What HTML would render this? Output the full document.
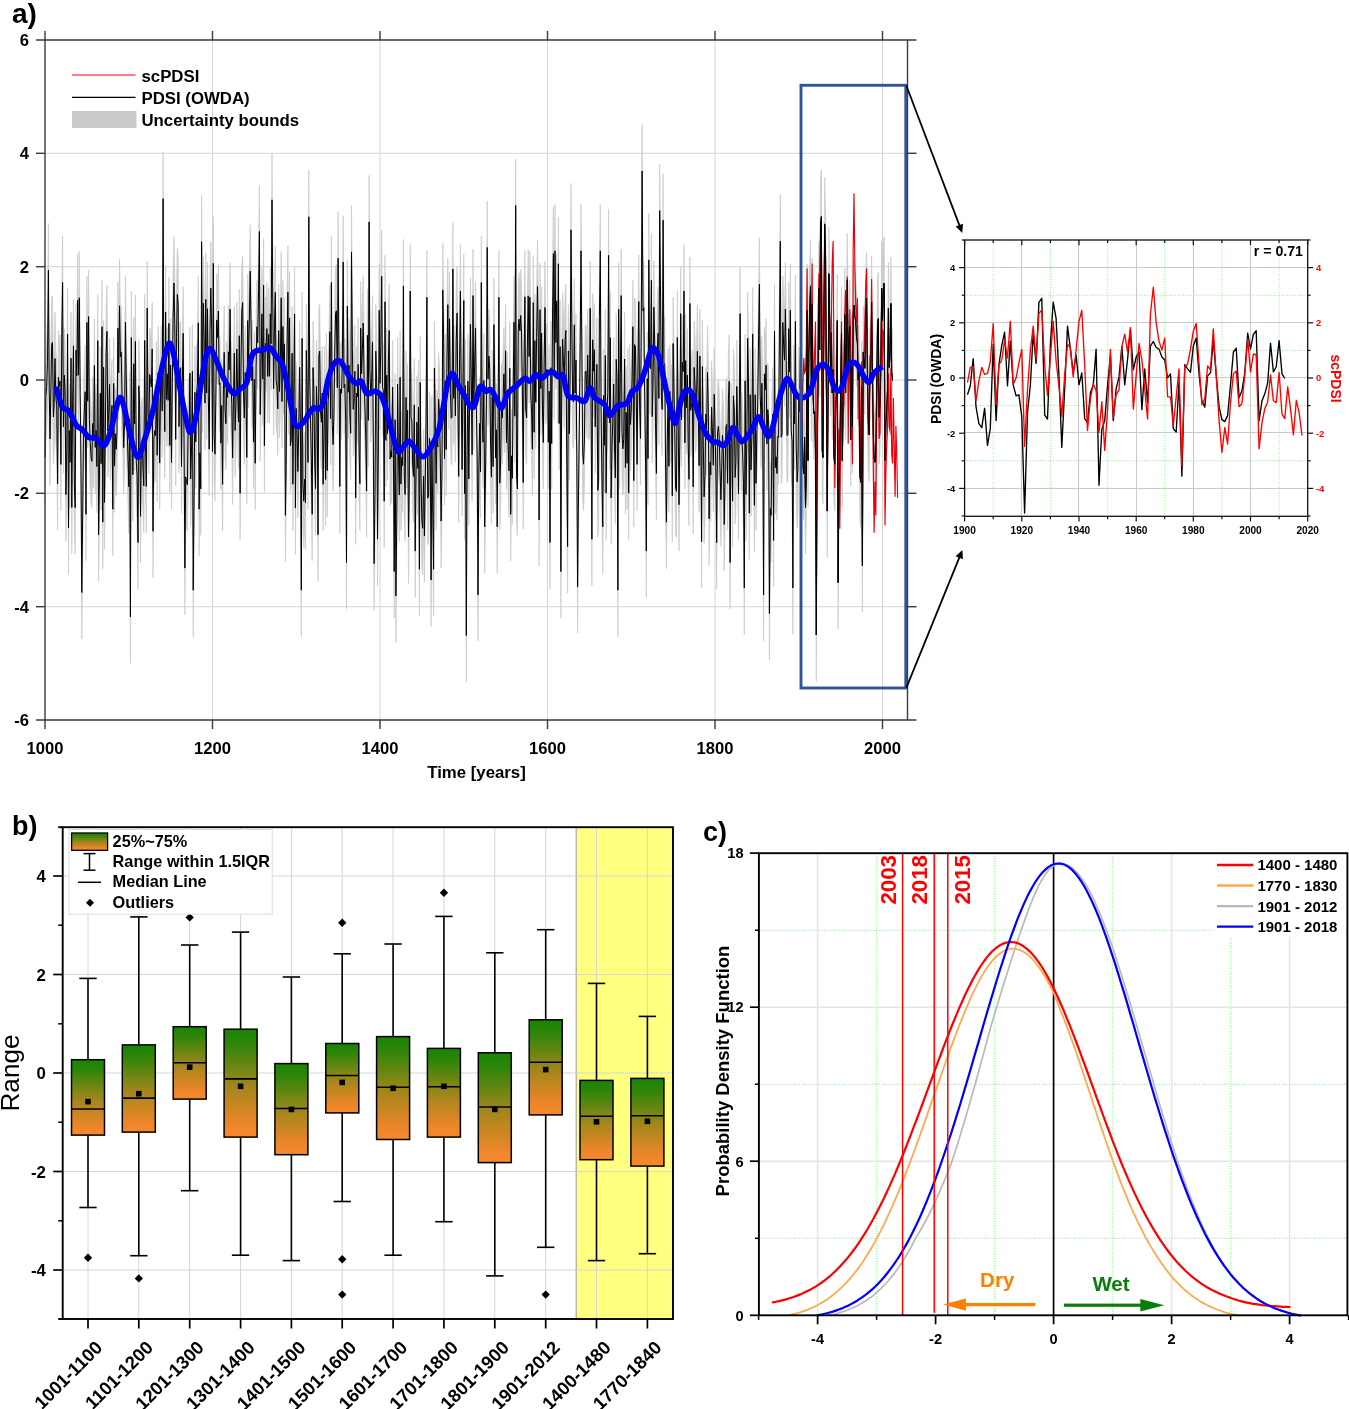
<!DOCTYPE html>
<html><head><meta charset="utf-8"><title>PDSI reconstruction figure</title>
<style>
html,body{margin:0;padding:0;background:#fff;}
body{width:1349px;height:1409px;overflow:hidden;font-family:"Liberation Sans",sans-serif;}
svg{display:block;will-change:transform;}
text{font-family:"Liberation Sans",sans-serif;}
</style></head>
<body>
<svg width="1349" height="1409" viewBox="0 0 1349 1409" font-family="Liberation Sans, sans-serif" shape-rendering="geometricPrecision">
<g id="panelA">
<line x1="212.5" y1="40" x2="212.5" y2="720" stroke="#d4d4d4" stroke-width="1" />
<line x1="380" y1="40" x2="380" y2="720" stroke="#d4d4d4" stroke-width="1" />
<line x1="547.5" y1="40" x2="547.5" y2="720" stroke="#d4d4d4" stroke-width="1" />
<line x1="715" y1="40" x2="715" y2="720" stroke="#d4d4d4" stroke-width="1" />
<line x1="882.5" y1="40" x2="882.5" y2="720" stroke="#d4d4d4" stroke-width="1" />
<line x1="45" y1="153.3" x2="907.5" y2="153.3" stroke="#d4d4d4" stroke-width="1" />
<line x1="45" y1="266.7" x2="907.5" y2="266.7" stroke="#d4d4d4" stroke-width="1" />
<line x1="45" y1="380" x2="907.5" y2="380" stroke="#d4d4d4" stroke-width="1" />
<line x1="45" y1="493.3" x2="907.5" y2="493.3" stroke="#d4d4d4" stroke-width="1" />
<line x1="45" y1="606.7" x2="907.5" y2="606.7" stroke="#d4d4d4" stroke-width="1" />
<path d="M45,410.7 45.8,350.1 46.7,340 47.5,315.3 48.4,223.6 49.2,341.5 50,392.5 50.9,341.5 51.7,297.3 52.5,295.8 53.4,370.5 54.2,356.2 55,312.2 55.9,351.2 56.7,359.4 57.6,437.2 58.4,330.6 59.2,340 60.1,334.7 60.9,418 61.8,287.1 62.6,236.1 63.4,380.3 64.3,328.6 65.1,343.2 65.9,448.1 66.8,403.5 67.6,287.8 68.5,481.4 69.3,384.1 70.1,415.8 71,311.7 71.8,460.9 72.6,355.2 73.5,299.3 74.3,437.5 75.2,461.3 76,303.6 76.8,329.4 77.7,253.6 78.5,328.6 79.3,251.4 80.2,347 81,421.9 81.8,546 82.7,466.5 83.5,384.5 84.4,361.8 85.2,345.2 86,467.8 86.9,275.9 87.7,354.7 88.6,270.1 89.4,373.3 90.2,395.9 91.1,410.9 91.9,414.9 92.7,377 93.6,394.5 94.4,318.9 95.2,400.9 96.1,384.2 96.9,420 97.8,294.2 98.6,488.2 99.4,437.2 100.3,346.8 101.1,417.2 102,280.3 102.8,475.7 103.6,320.8 104.5,455.9 105.3,391.1 106.1,306 107,285 107.8,384.5 108.7,367.4 109.5,337.9 110.3,387.7 111.2,373.5 112,359 112.8,462.7 113.7,336.9 114.5,419.6 115.4,387.3 116.2,403 117,385.3 117.9,281.7 118.7,326.4 119.5,259.3 120.4,310.3 121.2,305.9 122,348.2 122.9,360.6 123.7,401.3 124.6,374.2 125.4,275.7 126.2,326.7 127.1,381.4 127.9,408.3 128.8,440.2 129.6,372.4 130.4,570.4 131.3,291 132.1,378.5 132.9,428.3 133.8,317.3 134.6,377.4 135.4,295 136.3,415.6 137.1,429.2 138,496.2 138.8,339.3 139.6,358 140.5,469.9 141.3,401.7 142.2,397.7 143,423.1 143.8,439.4 144.7,294 145.5,396.1 146.3,440 147.2,261.6 148,368 148.9,380.6 149.7,328.1 150.5,334.1 151.4,340.5 152.2,302.5 153,484.8 153.9,392.8 154.7,384.2 155.6,389 156.4,341.8 157.2,408.8 158.1,326.3 158.9,352.7 159.7,416.6 160.6,341 161.4,325.2 162.2,364.5 163.1,152.2 163.9,343 164.8,385.2 165.6,265.5 166.4,352.8 167.3,327.4 168.1,353.9 168.9,276.9 169.8,398.9 170.6,318.5 171.5,416 172.3,337 173.1,269.5 174,236.5 174.8,278.3 175.7,392.9 176.5,290.2 177.3,248 178.2,257.9 179,380.2 179.8,323.8 180.7,321.3 181.5,420.1 182.3,337.3 183.2,286.8 184,391.9 184.9,521.7 185.7,430.4 186.5,435.1 187.4,438.3 188.2,378.8 189.1,387.3 189.9,326.8 190.7,432.4 191.6,399.4 192.4,324.7 193.2,543.8 194.1,448.9 194.9,346 195.8,395.3 196.6,346.5 197.4,338.4 198.3,276.4 199.1,462.7 199.9,406.3 200.8,442.5 201.6,195.3 202.5,339.5 203.3,256.6 204.1,291.2 205,356.6 205.8,252.9 206.6,346.5 207.5,262.2 208.3,348.9 209.2,402.7 210,281.9 210.8,241.6 211.7,284.5 212.5,405.6 213.3,216.8 214.2,389.7 215,407.8 215.8,352.3 216.7,273.6 217.5,291 218.4,264.5 219.2,338.1 220,336.4 220.9,396.8 221.7,359 222.6,437.8 223.4,343.5 224.2,305.9 225.1,364.5 225.9,377.2 226.7,341.9 227.6,350.9 228.4,305.3 229.2,323.5 230.1,262.7 230.9,336.8 231.8,357.1 232.6,411.5 233.4,357.3 234.3,306.5 235.1,384 236,355.2 236.8,302.5 237.6,344.4 238.5,375.4 239.3,289.2 240.1,446.9 241,314.6 241.8,264.3 242.7,256.1 243.5,345.3 244.3,371.6 245.2,326.1 246,342.7 246.8,410.9 247.7,274.1 248.5,315.1 249.3,275.7 250.2,224.7 251,275.7 251.9,334.3 252.7,320.1 253.5,395.7 254.4,332.7 255.2,416.8 256.1,319.3 256.9,280.3 257.7,296.3 258.6,243 259.4,185.1 260.2,368 261.1,316.5 261.9,267.4 262.8,332.7 263.6,238.5 264.4,399.4 265.3,297 266.1,299 266.9,282.2 267.8,330 268.6,287.9 269.5,329.8 270.3,267.4 271.1,297.3 272,153.3 272.8,258.9 273.6,342.2 274.5,276.9 275.3,245.8 276.1,333.2 277,341.1 277.8,362.4 278.7,284.2 279.5,344.9 280.3,319.7 281.2,251.4 282,355 282.9,280.1 283.7,321.5 284.5,297.4 285.4,469 286.2,418 287,299.7 287.9,245.7 288.7,341.4 289.6,271.4 290.4,399.2 291.2,393.5 292.1,306.7 292.9,437.7 293.7,348.1 294.6,267.4 295.4,461.6 296.2,361.9 297.1,386.1 297.9,425.1 298.8,379.8 299.6,320.8 300.4,376 301.3,543.8 302.1,291.9 302.9,437.3 303.8,454.7 304.6,432.6 305.5,456.5 306.3,304.1 307.1,339 308,416 308.8,170.3 309.7,331.6 310.5,372.5 311.3,412.1 312.2,467.8 313,321.1 313.8,340.5 314.7,413.4 315.5,442 316.4,339.9 317.2,361.5 318,488.2 318.9,308.9 319.7,304.5 320.5,364.8 321.4,375.8 322.2,346.6 323.1,437.8 323.9,386.8 324.7,346.2 325.6,433 326.4,333.3 327.2,424 328.1,355 328.9,343.2 329.8,285.2 330.6,372.1 331.4,236.1 332.3,378.1 333.1,398.1 333.9,368.1 334.8,300.7 335.6,266.7 336.4,264.3 337.3,341.2 338.1,211.7 339,312.9 339.8,440.1 340.6,342.6 341.5,346.7 342.3,319 343.2,215.7 344,341.4 344.8,337.9 345.7,374.4 346.5,516 347.3,259.7 348.2,345.7 349,318.7 349.9,369.2 350.7,386.9 351.5,205.5 352.4,302.2 353.2,362.9 354,353.6 354.9,324.9 355.7,451.4 356.6,346.6 357.4,350.2 358.2,317.9 359.1,405.3 359.9,437.3 360.7,281.6 361.6,327.2 362.4,303 363.2,276.5 364.1,332.9 364.9,360.5 365.8,393.6 366.6,444.6 367.4,288.8 368.3,373.9 369.1,175.4 369.9,324.1 370.8,349.6 371.6,336.5 372.5,295.5 373.3,390.3 374.1,517.1 375,448 375.8,304.6 376.7,336.4 377.5,492.8 378.3,409.4 379.2,263.8 380,336.9 380.8,298.7 381.7,229.8 382.5,340.7 383.4,344.7 384.2,454.8 385,255.3 385.9,393.9 386.7,328.6 387.5,387.2 388.4,314 389.2,284.1 390.1,412.5 390.9,404.3 391.7,410.7 392.6,340.5 393.4,404.7 394.2,525.1 395.1,373.3 395.9,549.4 396.8,471.7 397.6,337.5 398.4,403.7 399.3,448.5 400.1,330.7 400.9,437.7 401.8,411.1 402.6,419.1 403.4,239.5 404.3,430.6 405.1,448.1 406,350.8 406.8,395.1 407.6,363.6 408.5,490.5 409.3,438.2 410.2,244.6 411,370.9 411.8,374.2 412.7,419.2 413.5,429.8 414.3,358.3 415.2,504.7 416,428.3 416.9,375.6 417.7,422 418.5,360.5 419.4,522.8 420.2,336 421,431.9 421.9,474.1 422.7,481.9 423.6,429.8 424.4,489.4 425.2,438.4 426.1,373.8 426.9,250.8 427.7,451.7 428.6,449.8 429.4,391.8 430.2,399.3 431.1,533.6 431.9,396.1 432.8,470 433.6,522.8 434.4,321.5 435.3,372.3 436.1,436.9 436.9,390 437.8,400.5 438.6,352.7 439.5,367.4 440.3,411.7 441.1,474.6 442,423.6 442.8,243.4 443.7,294.4 444.5,412.2 445.3,334.4 446.2,403.2 447,309.2 447.8,258.2 448.7,336.7 449.5,272.4 450.4,346.8 451.2,371.9 452,370.6 452.9,222.5 453.7,351.8 454.5,325.5 455.4,369.3 456.2,294.2 457.1,266.5 457.9,355.8 458.7,430 459.6,312.8 460.4,244.6 461.2,340.2 462.1,423.2 462.9,344.2 463.8,254.2 464.6,447.3 465.4,339.2 466.3,589.1 467.1,409.2 467.9,334.8 468.8,432.6 469.6,353.7 470.4,277.9 471.3,333.7 472.1,408.2 473,249.1 473.8,357.4 474.6,320 475.5,281.5 476.3,354.9 477.2,414.5 478,548.3 478.8,426.2 479.7,377 480.5,425.4 481.3,236.1 482.2,371.9 483,395.9 483.9,334 484.7,480.3 485.5,429.3 486.4,356.9 487.2,200.9 488,332.7 488.9,309.5 489.7,322 490.6,397.5 491.4,430.7 492.2,350.2 493.1,420.2 493.9,278.1 494.7,334.8 495.6,411.4 496.4,383.3 497.2,480.3 498.1,370.2 498.9,250.8 499.8,436.7 500.6,414.9 501.4,363.3 502.3,371.3 503.1,350.1 503.9,327.5 504.8,360.1 505.6,304.3 506.5,396.3 507.3,352.7 508.1,398.4 509,424.4 509.8,321.7 510.7,467.8 511.5,409.5 512.3,431.8 513.2,340.4 514,275.7 514.8,369.8 515.7,159 516.5,428.8 517.4,442.6 518.2,284 519,272.6 519.9,284.4 520.7,269 521.5,285.5 522.4,345.6 523.2,436.1 524,319.7 524.9,250.4 525.7,362.7 526.6,371.5 527.4,299.8 528.2,249.4 529.1,310.1 529.9,250.8 530.8,348.3 531.6,366 532.4,402.8 533.3,256.1 534.1,385.8 534.9,294.1 535.8,355.8 536.6,291 537.5,240 538.3,291 539.1,473.5 540,263.2 540.8,342 541.6,286.7 542.5,366.4 543.3,396 544.2,312 545,261 545.8,331.3 546.7,323 547.5,324.7 548.3,395.7 549.2,344.8 550,496.2 550.9,321.2 551.7,397 552.5,269.7 553.4,207.2 554.2,326.5 555,204.3 555.9,296 556.7,254.4 557.6,330.3 558.4,217.4 559.2,377.1 560.1,300.2 560.9,525.1 561.7,341.5 562.6,292.7 563.4,313.7 564.2,335.7 565.1,293.4 565.9,283.9 566.8,419 567.6,500.1 568.4,304.5 569.3,387.4 570.1,332.9 571,183.4 571.8,276.1 572.6,351.5 573.5,355.5 574.3,278.3 575.1,346.6 576,313.7 576.8,408.7 577.6,540.4 578.5,445.4 579.3,382 580.2,295 581,204.3 581.8,295.1 582.7,406.2 583.5,417.7 584.4,394.5 585.2,325.5 586,324.5 586.9,345.4 587.7,308.5 588.5,347.6 589.4,345 590.2,261.8 591.1,364.8 591.9,492.8 592.7,293.3 593.6,324.7 594.4,303.3 595.2,380.3 596.1,344.7 596.9,317.8 597.8,443.9 598.6,434.8 599.4,270 600.3,204.3 601.1,365.1 601.9,429.3 602.8,480.3 603.6,349 604.5,398.8 605.3,309 606.1,446.6 607,365.5 607.8,346.4 608.6,208.9 609.5,376.5 610.3,291.2 611.1,451.4 612,400.4 612.8,374.7 613.7,337.6 614.5,399.9 615.3,431.5 616.2,313 617,330.1 617.9,543.8 618.7,262.8 619.5,395.9 620.4,326.7 621.2,249.1 622,386.2 622.9,402.3 623.7,392.8 624.6,312.5 625.4,421.1 626.2,365.8 627.1,416.8 627.9,348.6 628.7,446.5 629.6,344.5 630.4,378 631.2,365.8 632.1,331.3 632.9,280.3 633.8,434.1 634.6,298.1 635.4,300.5 636.3,352.7 637.1,418 638,314.3 638.8,255.1 639.6,358.3 640.5,392 641.3,268.5 642.1,124.4 643,264.6 643.8,261.2 644.6,342.4 645.5,406.6 646.3,504.7 647.2,332.1 648,412.1 648.8,213.4 649.7,320.5 650.5,322.1 651.4,233.8 652.2,370.3 653,339.1 653.9,260.7 654.7,295.4 655.5,376 656.4,427 657.2,304.4 658.1,286.8 658.9,351.9 659.7,164.1 660.6,254.5 661.4,350.7 662.2,363 663.1,173.7 663.9,316.6 664.8,317.6 665.6,424.8 666.4,475.8 667.3,394.9 668.1,348.8 668.9,419.8 669.8,345 670.6,370.1 671.5,364.4 672.3,449.3 673.1,297 674,343.2 674.8,387.1 675.6,442 676.5,444.9 677.3,291 678.1,367.9 679,458.2 679.8,396.5 680.7,267.2 681.5,373.5 682.3,315.8 683.2,325.2 684,244.6 684.9,396.3 685.7,314.2 686.5,361.5 687.4,328.8 688.2,397.2 689,432.9 689.9,257 690.7,364 691.6,357.2 692.4,349.8 693.2,440.5 694.1,321 694.9,335.4 695.7,359.2 696.6,347.1 697.4,304.8 698.2,353 699.1,419.2 699.9,309.4 700.8,389.4 701.6,495 702.4,320 703.3,399 704.1,450.4 705,429.1 705.8,367.6 706.6,382.6 707.5,325.9 708.3,360 709.1,472.4 710,415.7 710.8,428.3 711.6,360.8 712.5,387.5 713.3,418.8 714.2,347.7 715,380.8 715.8,421.3 716.7,496.2 717.5,386.5 718.4,379.9 719.2,390.6 720,422.6 720.9,453.2 721.7,422 722.5,388.8 723.4,405.2 724.2,478 725.1,427 725.9,380.8 726.7,378 727.6,436.9 728.4,353.5 729.2,334.7 730.1,516 730.9,383.1 731.8,395.1 732.6,454.6 733.4,349.3 734.3,363.3 735.1,431.1 735.9,415 736.8,339.9 737.6,379.9 738.5,447.1 739.3,364.6 740.1,267.2 741,398 741.8,392.1 742.6,405.7 743.5,437.2 744.3,541.5 745.1,334.4 746,447.9 746.8,398.3 747.7,291.8 748.5,336.7 749.3,466.7 750.2,348.4 751,423.4 751.9,389.4 752.7,287.5 753.5,373.7 754.4,458.9 755.2,348.2 756,436.8 756.9,384.1 757.7,357.6 758.6,288.8 759.4,237.8 760.2,348.7 761.1,374.7 761.9,336.7 762.7,378.9 763.6,548.3 764.4,327.4 765.2,343.4 766.1,318.8 766.9,397.6 767.8,363.1 768.6,373 769.4,567 770.3,462 771.1,468.8 772,389.8 772.8,367.7 773.6,493.9 774.5,284.8 775.3,421.1 776.1,410.3 777,427.1 777.8,390.1 778.6,390.9 779.5,273.4 780.3,194.7 781.2,390.7 782,387.7 782.8,275.9 783.7,299.3 784.5,313.7 785.4,262.7 786.2,313.7 787,389.1 787.9,388.5 788.7,282.3 789.5,325.5 790.4,263.8 791.2,383.1 792.1,394.5 792.9,541.5 793.7,345.6 794.6,377.3 795.4,274.9 796.2,398.5 797.1,435.4 797.9,422.9 798.8,347 799.6,365.2 800.4,348.3 801.3,293.7 802.1,387.7 802.9,419.6 803.8,427.1 804.6,390.7 805.5,460.9 806.3,429 807.1,263.9 808,414 808.8,306.8 809.6,266 810.5,239.5 811.3,348.3 812.1,257.8 813,346.4 813.8,367.1 814.7,365.2 815.5,406.5 816.3,588.5 817.2,399 818,346.4 818.9,241.5 819.7,303.5 820.5,178.3 821.4,170.1 822.2,403.9 823,411 823.9,263.9 824.7,177.4 825.6,210.9 826.4,331.2 827.2,464.7 828.1,354 828.9,227.2 829.7,274.1 830.6,323.1 831.4,286.4 832.2,346.4 833.1,323.1 833.9,410.3 834.8,417.8 835.6,361.5 836.4,346.4 837.3,274.1 838.1,536 839,430.9 839.8,414 840.6,346.4 841.5,286.4 842.3,414 843.1,354 844,331.2 844.8,268 845.6,346.4 846.5,294.5 847.3,233.3 848.2,317 849,290.5 849.8,280.3 850.7,393.4 851.5,314.9 852.4,380.2 853.2,268 854,258.6 854.9,270.9 855.7,274.1 856.5,290.5 857.4,296.6 858.2,333.3 859.1,325.1 859.9,429 860.7,435.8 861.6,340.8 862.4,519.1 863.2,306 864.1,314.9 864.9,321.9 865.8,268 866.6,251.7 867.4,327.2 868.3,376.5 869.1,388.5 869.9,329.2 870.8,323.1 871.6,255.8 872.5,327.2 873.3,387.7 874.1,412.1 875,415.9 875.8,404.6 876.6,346.4 877.5,280.3 878.3,272.1 879.1,370.8 880,357.7 880.8,323.1 881.7,241.5 882.5,274.1 883.3,243.5 884.2,236.6 885,414 885.9,376.5 886.7,363.3 887.5,342.7 888.4,261.9 889.2,321 890,310.8 890.9,257 891.7,325.1 892.6,334.1 892.6,427 891.7,418.1 890.9,349.9 890,403.8 889.2,414 888.4,354.8 887.5,435.6 886.7,456.3 885.9,469.4 885,506.9 884.2,329.5 883.3,336.5 882.5,367.1 881.7,334.4 880.8,416 880,450.6 879.1,463.8 878.3,365 877.5,373.2 876.6,439.4 875.8,497.6 875,508.8 874.1,505.1 873.3,480.7 872.5,420.1 871.6,348.7 870.8,416 869.9,422.1 869.1,481.4 868.3,469.4 867.4,420.1 866.6,344.6 865.8,360.9 864.9,414.8 864.1,407.9 863.2,398.9 862.4,612 861.6,433.7 860.7,528.7 859.9,522 859.1,418.1 858.2,426.2 857.4,389.5 856.5,383.4 855.7,367.1 854.9,363.8 854,351.6 853.2,360.9 852.4,473.2 851.5,407.9 850.7,486.3 849.8,373.2 849,383.4 848.2,409.9 847.3,326.3 846.5,387.5 845.6,439.4 844.8,360.9 844,424.2 843.1,446.9 842.3,506.9 841.5,379.3 840.6,439.4 839.8,506.9 839,523.8 838.1,628.9 837.3,367.1 836.4,439.4 835.6,454.4 834.8,510.7 833.9,503.2 833.1,416 832.2,439.4 831.4,379.3 830.6,416 829.7,367.1 828.9,320.2 828.1,446.9 827.2,557.6 826.4,424.2 825.6,303.8 824.7,270.4 823.9,356.9 823,503.9 822.2,496.8 821.4,263 820.5,271.2 819.7,396.4 818.9,334.4 818,439.4 817.2,491.9 816.3,681.5 815.5,499.4 814.7,458.1 813.8,460 813,439.4 812.1,350.7 811.3,441.3 810.5,332.4 809.6,358.9 808.8,399.7 808,506.9 807.1,356.9 806.3,522 805.5,553.9 804.6,483.7 803.8,520.1 802.9,512.6 802.1,480.7 801.3,386.6 800.4,441.3 799.6,458.1 798.8,439.9 797.9,515.8 797.1,528.3 796.2,491.5 795.4,367.8 794.6,470.2 793.7,438.6 792.9,634.4 792.1,487.4 791.2,476 790.4,356.8 789.5,418.5 788.7,375.2 787.9,481.4 787,482 786.2,406.6 785.4,355.6 784.5,406.6 783.7,392.2 782.8,368.8 782,480.6 781.2,483.6 780.3,287.6 779.5,366.3 778.6,483.9 777.8,483 777,520.1 776.1,503.3 775.3,514.1 774.5,377.7 773.6,586.8 772.8,460.6 772,482.7 771.1,561.8 770.3,555 769.4,659.9 768.6,465.9 767.8,456.1 766.9,490.6 766.1,411.7 765.2,436.4 764.4,420.4 763.6,641.2 762.7,471.9 761.9,429.6 761.1,467.7 760.2,441.6 759.4,330.7 758.6,381.7 757.7,450.5 756.9,477.1 756,529.8 755.2,441.2 754.4,551.9 753.5,466.6 752.7,380.4 751.9,482.3 751,516.4 750.2,441.3 749.3,559.6 748.5,429.6 747.7,384.7 746.8,491.3 746,540.9 745.1,427.3 744.3,634.4 743.5,530.2 742.6,498.6 741.8,485 741,490.9 740.1,360.2 739.3,457.5 738.5,540 737.6,472.8 736.8,432.8 735.9,507.9 735.1,524 734.3,456.2 733.4,442.2 732.6,547.5 731.8,488.1 730.9,476 730.1,608.9 729.2,427.7 728.4,446.4 727.6,529.9 726.7,470.9 725.9,473.7 725.1,520 724.2,571 723.4,498.1 722.5,481.7 721.7,514.9 720.9,546.2 720,515.6 719.2,483.5 718.4,472.8 717.5,479.4 716.7,589.1 715.8,514.3 715,473.8 714.2,440.6 713.3,511.7 712.5,480.4 711.6,453.7 710.8,521.2 710,508.6 709.1,565.3 708.3,453 707.5,418.8 706.6,475.5 705.8,460.5 705,522 704.1,543.3 703.3,491.9 702.4,412.9 701.6,588 700.8,482.3 699.9,402.3 699.1,512.1 698.2,445.9 697.4,397.8 696.6,440.1 695.7,452.2 694.9,428.3 694.1,413.9 693.2,533.4 692.4,442.8 691.6,450.2 690.7,456.9 689.9,350 689,525.9 688.2,490.2 687.4,421.7 686.5,454.4 685.7,407.1 684.9,489.2 684,337.5 683.2,418.1 682.3,408.7 681.5,466.5 680.7,360.1 679.8,489.5 679,551.1 678.1,460.8 677.3,383.9 676.5,537.8 675.6,534.9 674.8,480 674,436.1 673.1,390 672.3,542.2 671.5,457.4 670.6,463.1 669.8,437.9 668.9,512.7 668.1,441.8 667.3,487.9 666.4,568.7 665.6,517.7 664.8,410.5 663.9,409.6 663.1,266.7 662.2,456 661.4,443.6 660.6,347.5 659.7,257 658.9,444.8 658.1,379.7 657.2,397.3 656.4,520 655.5,469 654.7,388.4 653.9,353.7 653,432 652.2,463.2 651.4,326.7 650.5,415 649.7,413.4 648.8,306.3 648,505 647.2,425 646.3,597.6 645.5,499.6 644.6,435.3 643.8,354.2 643,357.6 642.1,217.4 641.3,361.5 640.5,485 639.6,451.2 638.8,348 638,407.2 637.1,510.9 636.3,445.6 635.4,393.4 634.6,391.1 633.8,527 632.9,373.2 632.1,424.2 631.2,458.8 630.4,470.9 629.6,437.4 628.7,539.5 627.9,441.6 627.1,509.8 626.2,458.8 625.4,514 624.6,405.4 623.7,485.7 622.9,495.2 622,479.1 621.2,342 620.4,419.7 619.5,488.8 618.7,355.8 617.9,636.7 617,423 616.2,405.9 615.3,524.5 614.5,492.8 613.7,430.5 612.8,467.7 612,493.3 611.1,544.3 610.3,384.2 609.5,469.4 608.6,301.8 607.8,439.3 607,458.4 606.1,539.5 605.3,401.9 604.5,491.8 603.6,441.9 602.8,573.2 601.9,522.2 601.1,458.1 600.3,297.3 599.4,362.9 598.6,527.7 597.8,536.9 596.9,410.7 596.1,437.6 595.2,473.3 594.4,396.2 593.6,417.7 592.7,386.3 591.9,585.7 591.1,457.8 590.2,354.7 589.4,438 588.5,440.5 587.7,401.4 586.9,438.4 586,417.4 585.2,418.4 584.4,487.5 583.5,510.7 582.7,499.1 581.8,388 581,297.3 580.2,388 579.3,474.9 578.5,538.4 577.6,633.3 576.8,501.6 576,406.6 575.1,439.6 574.3,371.3 573.5,448.5 572.6,444.5 571.8,369 571,276.3 570.1,425.8 569.3,480.3 568.4,397.4 567.6,593.1 566.8,511.9 565.9,376.9 565.1,386.3 564.2,428.6 563.4,406.6 562.6,385.7 561.7,434.4 560.9,618 560.1,393.1 559.2,470.1 558.4,310.3 557.6,423.2 556.7,347.3 555.9,389 555,297.3 554.2,419.4 553.4,300.1 552.5,362.6 551.7,489.9 550.9,414.2 550,589.1 549.2,437.7 548.3,488.6 547.5,417.7 546.7,415.9 545.8,424.3 545,353.9 544.2,404.9 543.3,489 542.5,459.3 541.6,379.6 540.8,435 540,356.2 539.1,566.4 538.3,384 537.5,333 536.6,384 535.8,448.7 534.9,387.1 534.1,478.7 533.3,349.1 532.4,495.7 531.6,459 530.8,441.2 529.9,343.7 529.1,403.1 528.2,342.3 527.4,392.7 526.6,464.4 525.7,455.7 524.9,343.3 524,412.6 523.2,529 522.4,438.5 521.5,378.5 520.7,362 519.9,377.3 519,365.5 518.2,376.9 517.4,535.5 516.5,521.8 515.7,251.9 514.8,462.7 514,368.7 513.2,433.4 512.3,524.8 511.5,502.4 510.7,560.8 509.8,414.6 509,517.4 508.1,491.3 507.3,445.6 506.5,489.2 505.6,397.3 504.8,453 503.9,420.4 503.1,443 502.3,464.2 501.4,456.3 500.6,507.8 499.8,529.6 498.9,343.7 498.1,463.1 497.2,573.2 496.4,476.3 495.6,504.4 494.7,427.7 493.9,371.1 493.1,513.1 492.2,443.2 491.4,523.6 490.6,490.4 489.7,414.9 488.9,402.5 488,425.6 487.2,293.9 486.4,449.9 485.5,522.2 484.7,573.2 483.9,426.9 483,488.8 482.2,464.9 481.3,329 480.5,518.3 479.7,469.9 478.8,519.2 478,641.2 477.2,507.4 476.3,447.8 475.5,374.4 474.6,412.9 473.8,450.3 473,342 472.1,501.1 471.3,426.6 470.4,370.9 469.6,446.7 468.8,525.5 467.9,427.7 467.1,502.2 466.3,682 465.4,432.1 464.6,540.2 463.8,347.1 462.9,437.1 462.1,516.1 461.2,433.1 460.4,337.5 459.6,405.8 458.7,522.9 457.9,448.7 457.1,359.4 456.2,387.2 455.4,462.3 454.5,418.4 453.7,444.7 452.9,315.4 452,463.5 451.2,464.8 450.4,439.7 449.5,365.3 448.7,429.7 447.8,351.1 447,402.1 446.2,496.1 445.3,427.4 444.5,505.2 443.7,387.4 442.8,336.4 442,516.6 441.1,567.6 440.3,504.6 439.5,460.4 438.6,445.7 437.8,493.4 436.9,482.9 436.1,529.9 435.3,465.2 434.4,414.4 433.6,615.7 432.8,563 431.9,489.1 431.1,626.5 430.2,492.3 429.4,484.8 428.6,542.8 427.7,544.7 426.9,343.7 426.1,466.7 425.2,531.3 424.4,582.3 423.6,522.7 422.7,574.8 421.9,567 421,524.8 420.2,428.9 419.4,615.7 418.5,453.5 417.7,514.9 416.9,468.6 416,521.3 415.2,597.6 414.3,451.3 413.5,522.8 412.7,512.1 411.8,467.2 411,463.8 410.2,337.5 409.3,531.1 408.5,583.4 407.6,456.5 406.8,488 406,443.7 405.1,541 404.3,523.6 403.4,332.4 402.6,512 401.8,504 400.9,530.6 400.1,423.6 399.3,541.5 398.4,496.7 397.6,430.5 396.8,564.6 395.9,642.4 395.1,466.2 394.2,618 393.4,497.6 392.6,433.4 391.7,503.6 390.9,497.2 390.1,505.4 389.2,377 388.4,407 387.5,480.2 386.7,421.5 385.9,486.8 385,348.3 384.2,547.8 383.4,437.6 382.5,433.6 381.7,322.8 380.8,391.6 380,429.9 379.2,356.7 378.3,502.3 377.5,585.7 376.7,429.4 375.8,397.5 375,541 374.1,610.1 373.3,483.2 372.5,388.4 371.6,429.4 370.8,442.5 369.9,417.1 369.1,268.4 368.3,466.9 367.4,381.8 366.6,537.5 365.8,486.5 364.9,453.4 364.1,425.9 363.2,369.4 362.4,396 361.6,420.1 360.7,374.6 359.9,530.2 359.1,498.2 358.2,410.9 357.4,443.1 356.6,439.5 355.7,544.3 354.9,417.8 354,446.5 353.2,455.8 352.4,395.1 351.5,298.4 350.7,479.8 349.9,462.1 349,411.6 348.2,438.7 347.3,352.6 346.5,608.9 345.7,467.3 344.8,430.9 344,434.3 343.2,308.6 342.3,411.9 341.5,439.6 340.6,435.5 339.8,533 339,405.8 338.1,304.6 337.3,434.2 336.4,357.2 335.6,359.6 334.8,393.6 333.9,461 333.1,491.1 332.3,471.1 331.4,329 330.6,465.1 329.8,378.1 328.9,436.1 328.1,447.9 327.2,517 326.4,426.2 325.6,526 324.7,439.1 323.9,479.7 323.1,530.7 322.2,439.6 321.4,468.7 320.5,457.7 319.7,397.5 318.9,401.8 318,581.2 317.2,454.4 316.4,432.8 315.5,535 314.7,506.4 313.8,433.4 313,414 312.2,560.8 311.3,505 310.5,465.4 309.7,424.5 308.8,263.3 308,508.9 307.1,431.9 306.3,397 305.5,549.4 304.6,525.5 303.8,547.6 302.9,530.3 302.1,384.8 301.3,636.7 300.4,468.9 299.6,413.7 298.8,472.7 297.9,518 297.1,479.1 296.2,454.8 295.4,554.5 294.6,360.4 293.7,441 292.9,530.6 292.1,399.7 291.2,486.4 290.4,492.2 289.6,364.4 288.7,434.4 287.9,338.6 287,392.6 286.2,510.9 285.4,561.9 284.5,390.4 283.7,414.5 282.9,373 282,448 281.2,344.3 280.3,412.6 279.5,437.9 278.7,377.1 277.8,455.3 277,434.1 276.1,426.2 275.3,338.7 274.5,369.8 273.6,435.1 272.8,351.9 272,246.3 271.1,390.3 270.3,360.4 269.5,422.8 268.6,380.8 267.8,422.9 266.9,375.1 266.1,391.9 265.3,389.9 264.4,492.3 263.6,331.4 262.8,425.6 261.9,360.4 261.1,409.4 260.2,461 259.4,278 258.6,335.9 257.7,389.2 256.9,373.2 256.1,412.2 255.2,509.8 254.4,425.6 253.5,488.6 252.7,413 251.9,427.3 251,368.7 250.2,317.7 249.3,368.7 248.5,408 247.7,367.1 246.8,503.8 246,435.6 245.2,419 244.3,464.5 243.5,438.2 242.7,349 241.8,357.2 241,407.5 240.1,539.8 239.3,382.2 238.5,468.4 237.6,437.3 236.8,395.5 236,448.1 235.1,476.9 234.3,399.4 233.4,450.3 232.6,504.5 231.8,450 230.9,429.7 230.1,355.6 229.2,416.4 228.4,398.3 227.6,443.8 226.7,434.8 225.9,470.1 225.1,457.4 224.2,398.8 223.4,436.5 222.6,530.7 221.7,452 220.9,489.7 220,429.3 219.2,431 218.4,357.4 217.5,383.9 216.7,366.6 215.8,445.3 215,500.7 214.2,482.6 213.3,309.7 212.5,498.5 211.7,377.4 210.8,334.5 210,374.9 209.2,495.6 208.3,441.9 207.5,355.1 206.6,439.5 205.8,345.9 205,449.6 204.1,384.2 203.3,349.6 202.5,432.4 201.6,288.2 200.8,535.4 199.9,499.3 199.1,555.7 198.3,369.3 197.4,431.4 196.6,439.4 195.8,488.3 194.9,438.9 194.1,541.9 193.2,636.7 192.4,417.6 191.6,492.3 190.7,525.4 189.9,419.7 189.1,480.3 188.2,471.8 187.4,531.2 186.5,528 185.7,523.4 184.9,614.6 184,484.8 183.2,379.8 182.3,430.2 181.5,513.1 180.7,414.2 179.8,416.7 179,473.1 178.2,350.8 177.3,340.9 176.5,383.2 175.7,485.8 174.8,371.2 174,329.5 173.1,362.5 172.3,429.9 171.5,509 170.6,411.5 169.8,491.8 168.9,369.8 168.1,446.9 167.3,420.3 166.4,445.7 165.6,358.5 164.8,478.1 163.9,435.9 163.1,245.1 162.2,457.4 161.4,418.2 160.6,433.9 159.7,509.5 158.9,445.6 158.1,419.2 157.2,501.7 156.4,434.8 155.6,481.9 154.7,477.1 153.9,485.7 153,577.8 152.2,395.4 151.4,433.5 150.5,427 149.7,421 148.9,473.6 148,460.9 147.2,354.5 146.3,532.9 145.5,489.1 144.7,386.9 143.8,532.4 143,516 142.2,490.7 141.3,494.7 140.5,562.8 139.6,450.9 138.8,432.3 138,589.1 137.1,522.1 136.3,508.5 135.4,387.9 134.6,470.3 133.8,410.3 132.9,521.2 132.1,471.5 131.3,383.9 130.4,663.3 129.6,465.4 128.8,533.1 127.9,501.2 127.1,474.3 126.2,419.7 125.4,368.7 124.6,467.1 123.7,494.2 122.9,453.5 122,441.1 121.2,398.8 120.4,403.2 119.5,352.2 118.7,419.3 117.9,374.6 117,478.2 116.2,495.9 115.4,480.3 114.5,512.6 113.7,429.9 112.8,555.7 112,452 111.2,466.4 110.3,480.6 109.5,430.9 108.7,460.3 107.8,477.4 107,377.9 106.1,398.9 105.3,484 104.5,548.9 103.6,413.7 102.8,568.7 102,373.2 101.1,510.2 100.3,439.8 99.4,530.2 98.6,581.2 97.8,387.2 96.9,512.9 96.1,477.1 95.2,493.9 94.4,411.8 93.6,487.5 92.7,469.9 91.9,507.8 91.1,503.9 90.2,488.9 89.4,466.2 88.6,363 87.7,447.6 86.9,368.8 86,560.8 85.2,438.1 84.4,454.8 83.5,477.4 82.7,559.5 81.8,639 81,514.9 80.2,440 79.3,344.3 78.5,421.5 77.7,346.6 76.8,422.3 76,396.6 75.2,554.2 74.3,530.4 73.5,392.2 72.6,448.1 71.8,553.8 71,404.6 70.1,508.7 69.3,477.1 68.5,574.4 67.6,380.7 66.8,496.4 65.9,541 65.1,436.2 64.3,421.5 63.4,473.2 62.6,329 61.8,380 60.9,510.9 60.1,427.6 59.2,432.9 58.4,423.5 57.6,530.2 56.7,452.3 55.9,444.1 55,405.1 54.2,449.1 53.4,463.4 52.5,388.7 51.7,390.3 50.9,434.4 50,485.4 49.2,434.4 48.4,316.5 47.5,408.2 46.7,432.9 45.8,443.1 45,503.6Z" stroke="#c9c9c9" stroke-width="0.7" fill="#cdcdcd" stroke-linejoin="miter"/>
<path d="M45,457.2 45.8,396.6 46.7,386.5 47.5,361.7 48.4,270.1 49.2,387.9 50,438.9 50.9,387.9 51.7,343.8 52.5,342.2 53.4,417 54.2,402.6 55,358.6 55.9,397.6 56.7,405.9 57.6,483.7 58.4,377.1 59.2,386.4 60.1,381.1 60.9,464.4 61.8,333.5 62.6,282.5 63.4,426.8 64.3,375.1 65.1,389.7 65.9,494.6 66.8,449.9 67.6,334.2 68.5,527.9 69.3,430.6 70.1,462.3 71,358.2 71.8,507.4 72.6,401.7 73.5,345.8 74.3,483.9 75.2,507.7 76,350.1 76.8,375.8 77.7,300.1 78.5,375.1 79.3,297.8 80.2,393.5 81,468.4 81.8,592.5 82.7,513 83.5,430.9 84.4,408.3 85.2,391.7 86,514.3 86.9,322.4 87.7,401.2 88.6,316.5 89.4,419.7 90.2,442.4 91.1,457.4 91.9,461.3 92.7,423.4 93.6,441 94.4,365.4 95.2,447.4 96.1,430.6 96.9,466.5 97.8,340.7 98.6,534.7 99.4,483.7 100.3,393.3 101.1,463.7 102,326.7 102.8,522.2 103.6,367.2 104.5,502.4 105.3,437.6 106.1,352.4 107,331.4 107.8,431 108.7,413.8 109.5,384.4 110.3,434.2 111.2,419.9 112,405.5 112.8,509.2 113.7,383.4 114.5,466.1 115.4,433.8 116.2,449.4 117,431.8 117.9,328.2 118.7,372.8 119.5,305.8 120.4,356.8 121.2,352.4 122,394.7 122.9,407 123.7,447.7 124.6,420.6 125.4,322.2 126.2,373.2 127.1,427.8 127.9,454.7 128.8,486.7 129.6,418.9 130.4,616.9 131.3,337.5 132.1,425 132.9,474.7 133.8,363.8 134.6,423.9 135.4,341.4 136.3,462.1 137.1,475.7 138,542.6 138.8,385.8 139.6,404.4 140.5,516.3 141.3,448.2 142.2,444.2 143,469.5 143.8,485.9 144.7,340.5 145.5,442.6 146.3,486.5 147.2,308 148,414.5 148.9,427.1 149.7,374.5 150.5,380.6 151.4,387 152.2,348.9 153,531.3 153.9,439.2 154.7,430.7 155.6,435.5 156.4,388.3 157.2,455.3 158.1,372.7 158.9,399.2 159.7,463 160.6,387.5 161.4,371.7 162.2,411 163.1,198.7 163.9,389.4 164.8,431.7 165.6,312 166.4,399.3 167.3,373.8 168.1,400.4 168.9,323.3 169.8,445.4 170.6,365 171.5,462.5 172.3,383.5 173.1,316 174,283 174.8,324.8 175.7,439.3 176.5,336.7 177.3,294.5 178.2,304.3 179,426.6 179.8,370.2 180.7,367.7 181.5,466.6 182.3,383.7 183.2,333.3 184,438.4 184.9,568.1 185.7,476.9 186.5,481.5 187.4,484.8 188.2,425.3 189.1,433.8 189.9,373.2 190.7,478.9 191.6,445.9 192.4,371.2 193.2,590.2 194.1,495.4 194.9,392.4 195.8,441.8 196.6,392.9 197.4,384.9 198.3,322.9 199.1,509.2 199.9,452.8 200.8,488.9 201.6,241.7 202.5,386 203.3,303.1 204.1,337.7 205,403.1 205.8,299.4 206.6,393 207.5,308.7 208.3,395.4 209.2,449.1 210,328.4 210.8,288.1 211.7,331 212.5,452 213.3,263.3 214.2,436.2 215,454.2 215.8,398.8 216.7,320.1 217.5,337.5 218.4,311 219.2,384.6 220,382.9 220.9,443.2 221.7,405.5 222.6,484.3 223.4,390 224.2,352.3 225.1,411 225.9,423.7 226.7,388.3 227.6,397.3 228.4,351.8 229.2,370 230.1,309.2 230.9,383.2 231.8,403.6 232.6,458 233.4,403.8 234.3,353 235.1,430.4 236,401.7 236.8,349 237.6,390.8 238.5,421.9 239.3,335.7 240.1,493.3 241,361 241.8,310.7 242.7,302.6 243.5,391.8 244.3,418 245.2,372.5 246,389.2 246.8,457.4 247.7,320.6 248.5,361.5 249.3,322.2 250.2,271.2 251,322.2 251.9,380.8 252.7,366.6 253.5,442.1 254.4,379.1 255.2,463.3 256.1,365.8 256.9,326.7 257.7,342.7 258.6,289.5 259.4,231.5 260.2,414.5 261.1,362.9 261.9,313.9 262.8,379.1 263.6,285 264.4,445.8 265.3,343.5 266.1,345.4 266.9,328.6 267.8,376.4 268.6,334.4 269.5,376.3 270.3,313.9 271.1,343.8 272,199.8 272.8,305.4 273.6,388.7 274.5,323.3 275.3,292.3 276.1,379.7 277,387.6 277.8,408.9 278.7,330.6 279.5,391.4 280.3,366.1 281.2,297.8 282,401.5 282.9,326.5 283.7,368 284.5,343.9 285.4,515.4 286.2,464.4 287,346.2 287.9,292.2 288.7,387.9 289.6,317.9 290.4,445.7 291.2,439.9 292.1,353.2 292.9,484.2 293.7,394.6 294.6,313.9 295.4,508.1 296.2,408.4 297.1,432.6 297.9,471.5 298.8,426.3 299.6,367.2 300.4,422.5 301.3,590.2 302.1,338.4 302.9,483.8 303.8,501.2 304.6,479 305.5,502.9 306.3,350.5 307.1,385.4 308,462.5 308.8,216.8 309.7,378 310.5,418.9 311.3,458.5 312.2,514.3 313,367.6 313.8,387 314.7,459.9 315.5,488.5 316.4,386.4 317.2,407.9 318,534.7 318.9,355.3 319.7,351 320.5,411.3 321.4,422.3 322.2,393.1 323.1,484.3 323.9,433.3 324.7,392.6 325.6,479.5 326.4,379.8 327.2,470.5 328.1,401.5 328.9,389.6 329.8,331.7 330.6,418.6 331.4,282.5 332.3,424.6 333.1,444.6 333.9,414.6 334.8,347.1 335.6,313.1 336.4,310.8 337.3,387.7 338.1,258.2 339,359.3 339.8,486.5 340.6,389 341.5,393.2 342.3,365.5 343.2,262.1 344,387.9 344.8,384.4 345.7,420.9 346.5,562.5 347.3,306.2 348.2,392.2 349,365.2 349.9,415.6 350.7,433.4 351.5,251.9 352.4,348.6 353.2,409.3 354,400.1 354.9,371.3 355.7,497.9 356.6,393.1 357.4,396.7 358.2,364.4 359.1,451.7 359.9,483.7 360.7,328.1 361.6,373.7 362.4,349.5 363.2,323 364.1,379.4 364.9,406.9 365.8,440.1 366.6,491.1 367.4,335.3 368.3,420.4 369.1,221.9 369.9,370.6 370.8,396.1 371.6,382.9 372.5,341.9 373.3,436.7 374.1,563.6 375,494.5 375.8,351.1 376.7,382.9 377.5,539.2 378.3,455.9 379.2,310.2 380,383.4 380.8,345.2 381.7,276.3 382.5,387.1 383.4,391.1 384.2,501.3 385,301.8 385.9,440.4 386.7,375.1 387.5,433.7 388.4,360.5 389.2,330.5 390.1,459 390.9,450.7 391.7,457.1 392.6,387 393.4,451.2 394.2,571.5 395.1,419.7 395.9,595.9 396.8,518.2 397.6,384 398.4,450.2 399.3,495 400.1,377.2 400.9,484.1 401.8,457.6 402.6,465.5 403.4,285.9 404.3,477.1 405.1,494.5 406,397.3 406.8,441.6 407.6,410.1 408.5,537 409.3,484.7 410.2,291 411,417.4 411.8,420.7 412.7,465.7 413.5,476.3 414.3,404.8 415.2,551.1 416,474.8 416.9,422.1 417.7,468.4 418.5,407 419.4,569.3 420.2,382.4 421,478.4 421.9,520.5 422.7,528.3 423.6,476.2 424.4,535.8 425.2,484.8 426.1,420.3 426.9,297.3 427.7,498.2 428.6,496.3 429.4,438.3 430.2,445.8 431.1,580 431.9,442.6 432.8,516.5 433.6,569.3 434.4,368 435.3,418.7 436.1,483.4 436.9,436.4 437.8,447 438.6,399.2 439.5,413.9 440.3,458.2 441.1,521.1 442,470.1 442.8,289.9 443.7,340.9 444.5,458.7 445.3,380.9 446.2,449.6 447,355.6 447.8,304.6 448.7,383.2 449.5,318.8 450.4,393.3 451.2,418.3 452,417 452.9,268.9 453.7,398.3 454.5,372 455.4,415.8 456.2,340.7 457.1,313 457.9,402.3 458.7,476.4 459.6,359.3 460.4,291 461.2,386.7 462.1,469.6 462.9,390.7 463.8,300.6 464.6,493.7 465.4,385.6 466.3,635.6 467.1,455.7 467.9,381.2 468.8,479 469.6,400.2 470.4,324.4 471.3,380.2 472.1,454.7 473,295.6 473.8,403.9 474.6,366.5 475.5,327.9 476.3,401.4 477.2,461 478,594.8 478.8,472.7 479.7,423.4 480.5,471.9 481.3,282.5 482.2,418.4 483,442.3 483.9,380.5 484.7,526.8 485.5,475.8 486.4,403.4 487.2,247.4 488,379.1 488.9,356 489.7,368.5 490.6,444 491.4,477.1 492.2,396.7 493.1,466.6 493.9,324.6 494.7,381.2 495.6,457.9 496.4,429.8 497.2,526.8 498.1,416.7 498.9,297.3 499.8,483.2 500.6,461.4 501.4,409.8 502.3,417.8 503.1,396.6 503.9,373.9 504.8,406.6 505.6,350.8 506.5,442.8 507.3,399.1 508.1,444.8 509,470.9 509.8,368.2 510.7,514.3 511.5,455.9 512.3,478.3 513.2,386.9 514,322.2 514.8,416.2 515.7,205.5 516.5,475.3 517.4,489 518.2,330.5 519,319.1 519.9,330.9 520.7,315.5 521.5,332 522.4,392 523.2,482.6 524,366.2 524.9,296.8 525.7,409.2 526.6,417.9 527.4,346.3 528.2,295.9 529.1,356.6 529.9,297.3 530.8,394.8 531.6,412.5 532.4,449.3 533.3,302.6 534.1,432.3 534.9,340.6 535.8,402.3 536.6,337.5 537.5,286.5 538.3,337.5 539.1,520 540,309.7 540.8,388.5 541.6,333.1 542.5,412.9 543.3,442.5 544.2,358.5 545,307.5 545.8,377.8 546.7,369.5 547.5,371.2 548.3,442.2 549.2,391.2 550,542.6 550.9,367.7 551.7,443.5 552.5,316.2 553.4,253.6 554.2,373 555,250.8 555.9,342.5 556.7,300.9 557.6,376.7 558.4,263.8 559.2,423.6 560.1,346.6 560.9,571.5 561.7,388 562.6,339.2 563.4,360.1 564.2,382.2 565.1,339.8 565.9,330.4 566.8,465.4 567.6,546.6 568.4,350.9 569.3,433.9 570.1,379.4 571,229.8 571.8,322.5 572.6,398 573.5,402 574.3,324.8 575.1,393.1 576,360.2 576.8,455.2 577.6,586.8 578.5,491.9 579.3,428.4 580.2,341.5 581,250.8 581.8,341.5 582.7,452.6 583.5,464.2 584.4,441 585.2,371.9 586,371 586.9,391.9 587.7,355 588.5,394.1 589.4,391.5 590.2,308.3 591.1,411.3 591.9,539.2 592.7,339.8 593.6,371.2 594.4,349.7 595.2,426.8 596.1,391.2 596.9,364.3 597.8,490.4 598.6,481.3 599.4,316.4 600.3,250.8 601.1,411.6 601.9,475.8 602.8,526.8 603.6,395.4 604.5,445.3 605.3,355.4 606.1,493.1 607,411.9 607.8,392.8 608.6,255.3 609.5,423 610.3,337.7 611.1,497.9 612,446.9 612.8,421.2 613.7,384 614.5,446.4 615.3,478 616.2,359.4 617,376.6 617.9,590.2 618.7,309.3 619.5,442.4 620.4,373.2 621.2,295.6 622,432.7 622.9,448.8 623.7,439.3 624.6,359 625.4,467.5 626.2,412.3 627.1,463.3 627.9,395.1 628.7,493 629.6,390.9 630.4,424.5 631.2,412.3 632.1,377.7 632.9,326.7 633.8,480.6 634.6,344.6 635.4,346.9 636.3,399.1 637.1,464.4 638,360.8 638.8,301.6 639.6,404.7 640.5,438.5 641.3,315 642.1,170.9 643,311.1 643.8,307.7 644.6,388.9 645.5,453.1 646.3,551.1 647.2,378.5 648,458.5 648.8,259.9 649.7,367 650.5,368.6 651.4,280.3 652.2,416.7 653,385.5 653.9,307.2 654.7,341.9 655.5,422.5 656.4,473.5 657.2,350.8 658.1,333.2 658.9,398.4 659.7,210.6 660.6,301 661.4,397.1 662.2,409.5 663.1,220.2 663.9,363.1 664.8,364 665.6,471.2 666.4,522.2 667.3,441.4 668.1,395.3 668.9,466.3 669.8,391.4 670.6,416.6 671.5,410.9 672.3,495.7 673.1,343.5 674,389.6 674.8,433.5 675.6,488.5 676.5,491.4 677.3,337.5 678.1,414.4 679,504.7 679.8,443 680.7,313.6 681.5,420 682.3,362.2 683.2,371.6 684,291 684.9,442.8 685.7,360.6 686.5,407.9 687.4,375.2 688.2,443.7 689,479.4 689.9,303.5 690.7,410.4 691.6,403.7 692.4,396.3 693.2,486.9 694.1,367.4 694.9,381.8 695.7,405.7 696.6,393.6 697.4,351.3 698.2,399.4 699.1,465.6 699.9,355.9 700.8,435.8 701.6,541.5 702.4,366.5 703.3,445.5 704.1,496.8 705,475.6 705.8,414 706.6,429 707.5,372.4 708.3,406.5 709.1,518.8 710,462.1 710.8,474.8 711.6,407.2 712.5,433.9 713.3,465.2 714.2,394.2 715,427.3 715.8,467.8 716.7,542.6 717.5,433 718.4,426.3 719.2,437 720,469.1 720.9,499.7 721.7,468.5 722.5,435.2 723.4,451.6 724.2,524.5 725.1,473.5 725.9,427.2 726.7,424.4 727.6,483.4 728.4,399.9 729.2,381.2 730.1,562.5 730.9,429.6 731.8,441.6 732.6,501.1 733.4,395.8 734.3,409.8 735.1,477.5 735.9,461.5 736.8,386.4 737.6,426.3 738.5,493.5 739.3,411.1 740.1,313.7 741,444.5 741.8,438.5 742.6,452.2 743.5,483.7 744.3,588 745.1,380.8 746,494.4 746.8,444.8 747.7,338.2 748.5,383.1 749.3,513.2 750.2,394.8 751,469.9 751.9,435.9 752.7,333.9 753.5,420.2 754.4,505.4 755.2,394.7 756,483.3 756.9,430.6 757.7,404 758.6,335.2 759.4,284.2 760.2,395.2 761.1,421.2 761.9,383.2 762.7,425.4 763.6,594.8 764.4,373.9 765.2,389.9 766.1,365.3 766.9,444.1 767.8,409.6 768.6,419.5 769.4,613.5 770.3,508.5 771.1,515.3 772,436.3 772.8,414.2 773.6,540.4 774.5,331.3 775.3,467.6 776.1,456.8 777,473.6 777.8,436.5 778.6,437.4 779.5,319.9 780.3,241.2 781.2,437.2 782,434.2 782.8,322.4 783.7,345.7 784.5,360.2 785.4,309.2 786.2,360.2 787,435.5 787.9,434.9 788.7,328.7 789.5,372 790.4,310.3 791.2,429.6 792.1,441 792.9,588 793.7,392.1 794.6,423.7 795.4,321.3 796.2,445 797.1,481.8 797.9,469.3 798.8,393.4 799.6,411.7 800.4,394.8 801.3,340.2 802.1,434.2 802.9,466.1 803.8,473.6 804.6,437.2 805.5,507.4 806.3,475.5 807.1,310.4 808,460.5 808.8,353.2 809.6,312.4 810.5,285.9 811.3,394.8 812.1,304.3 813,392.9 813.8,413.6 814.7,411.7 815.5,453 816.3,635 817.2,445.5 818,392.9 818.9,288 819.7,350 820.5,224.7 821.4,216.6 822.2,450.3 823,457.5 823.9,310.4 824.7,223.9 825.6,257.4 826.4,377.7 827.2,511.1 828.1,400.4 828.9,273.7 829.7,320.6 830.6,369.6 831.4,332.8 832.2,392.9 833.1,369.6 833.9,456.7 834.8,464.2 835.6,407.9 836.4,392.9 837.3,320.6 838.1,582.5 839,477.4 839.8,460.5 840.6,392.9 841.5,332.8 842.3,460.5 843.1,400.4 844,377.7 844.8,314.5 845.6,392.9 846.5,341 847.3,279.8 848.2,363.4 849,336.9 849.8,326.7 850.7,439.8 851.5,361.4 852.4,426.7 853.2,314.5 854,305.1 854.9,317.3 855.7,320.6 856.5,336.9 857.4,343 858.2,379.8 859.1,371.6 859.9,475.5 860.7,482.2 861.6,387.3 862.4,565.6 863.2,352.4 864.1,361.4 864.9,368.3 865.8,314.5 866.6,298.2 867.4,373.6 868.3,422.9 869.1,434.9 869.9,375.7 870.8,369.6 871.6,302.2 872.5,373.6 873.3,434.2 874.1,458.6 875,462.3 875.8,451.1 876.6,392.9 877.5,326.7 878.3,318.6 879.1,417.3 880,404.2 880.8,369.6 881.7,288 882.5,320.6 883.3,290 884.2,283.1 885,460.5 885.9,422.9 886.7,409.8 887.5,389.2 888.4,308.4 889.2,367.5 890,357.3 890.9,303.5 891.7,371.6 892.6,380.5" stroke="#000" stroke-width="1.0" fill="none" stroke-linejoin="miter" stroke-miterlimit="10"/>
<path d="M799.6,389.1 800.4,358.1 801.3,356.5 802.1,426.7 802.9,385.9 803.8,358.1 804.6,372.8 805.5,370.4 806.3,347.1 807.1,268.4 808,434.8 808.8,353.2 809.6,343 810.5,302.2 811.3,339 812.1,263.5 813,393.2 813.8,379.8 814.7,349.2 815.5,321.4 816.3,520.5 817.2,404.2 818,322.6 818.9,273.7 819.7,341 820.5,247.2 821.4,241 822.2,353.2 823,416.5 823.9,336.9 824.7,263.5 825.6,345.1 826.4,398.1 827.2,459.3 828.1,373.6 828.9,310.4 829.7,318.6 830.6,377.7 831.4,322.6 832.2,263.5 833.1,241 833.9,353.2 834.8,487.9 835.6,422.6 836.4,392 837.3,406.3 838.1,491.9 839,428.7 839.8,528.7 840.6,443 841.5,321.4 842.3,461.3 843.1,414.4 844,404.2 844.8,314.5 845.6,290 846.5,326.7 847.3,276.5 848.2,443.8 849,373.6 849.8,309.2 850.7,343 851.5,402.2 852.4,464.2 853.2,249.2 854,193.3 854.9,267.6 855.7,304.3 856.5,322.6 857.4,298.2 858.2,418.5 859.1,418.5 859.9,477.7 860.7,418.5 861.6,361.4 862.4,561.3 863.2,357.3 864.1,351.2 864.9,320.6 865.8,283.9 866.6,268.4 867.4,353.2 868.3,434.8 869.1,422.6 869.9,355.3 870.8,363.4 871.6,279 872.5,373.6 873.3,467.5 874.1,532.7 875,481.7 875.8,515.6 876.6,430.8 877.5,371.6 878.3,365.5 879.1,438.9 880,432.8 880.8,373.6 881.7,300.2 882.5,367.5 883.3,330.8 884.2,332.8 885,525.4 885.9,471.5 886.7,443 887.5,428.7 888.4,373.6 889.2,426.7 890,430.8 890.9,368.3 891.7,454.4 892.6,463.4 893.4,398.1 894.2,443 895.1,496.8 895.9,425.9 896.7,451.1 897.6,498.1" stroke="#e8000b" stroke-width="1.15" fill="none" stroke-linejoin="miter" stroke-miterlimit="10"/>
<path d="M799.6,411.7 800.4,394.8 801.3,340.2 802.1,434.2 802.9,466.1 803.8,473.6 804.6,437.2 805.5,507.4 806.3,475.5 807.1,310.4 808,460.5 808.8,353.2 809.6,312.4 810.5,285.9 811.3,394.8 812.1,304.3 813,392.9 813.8,413.6 814.7,411.7 815.5,453 816.3,635 817.2,445.5 818,392.9 818.9,288 819.7,350 820.5,224.7 821.4,216.6 822.2,450.3 823,457.5 823.9,310.4 824.7,223.9 825.6,257.4 826.4,377.7 827.2,511.1 828.1,400.4 828.9,273.7 829.7,320.6 830.6,369.6 831.4,332.8 832.2,392.9 833.1,369.6 833.9,456.7 834.8,464.2 835.6,407.9 836.4,392.9 837.3,320.6 838.1,582.5 839,477.4 839.8,460.5 840.6,392.9 841.5,332.8 842.3,460.5 843.1,400.4 844,377.7 844.8,314.5 845.6,392.9 846.5,341 847.3,279.8 848.2,363.4 849,336.9 849.8,326.7 850.7,439.8 851.5,361.4 852.4,426.7 853.2,314.5 854,305.1 854.9,317.3 855.7,320.6 856.5,336.9 857.4,343 858.2,379.8 859.1,371.6 859.9,475.5 860.7,482.2 861.6,387.3 862.4,565.6 863.2,352.4 864.1,361.4 864.9,368.3 865.8,314.5 866.6,298.2 867.4,373.6 868.3,422.9 869.1,434.9 869.9,375.7 870.8,369.6 871.6,302.2 872.5,373.6 873.3,434.2 874.1,458.6 875,462.3 875.8,451.1 876.6,392.9 877.5,326.7 878.3,318.6 879.1,417.3 880,404.2 880.8,369.6 881.7,288 882.5,320.6 883.3,290 884.2,283.1 885,460.5 885.9,422.9 886.7,409.8 887.5,389.2 888.4,308.4 889.2,367.5 890,357.3 890.9,303.5 891.7,371.6 892.6,380.5" stroke="#000" stroke-width="1.0" fill="none" stroke-linejoin="miter" stroke-miterlimit="10"/>
<path d="M56,386.7C57,390 60.1,402.6 62.2,406.7C64.4,410.8 66.5,408 68.9,411.2C71.3,414.4 74.5,422.6 76.7,425.6C78.9,428.6 80.3,427.4 82.3,429.4C84.3,431.4 86.7,436 88.9,437.4C91.1,438.8 93,436.5 95.6,437.9C98.2,439.3 101.9,447.1 104.5,445.6C107.1,444.1 108.8,436.8 111.2,429C113.6,421.2 116.9,403 118.9,398.9C120.9,394.8 121.7,399.5 123.4,404.5C125.1,409.5 126.6,420.3 128.9,429C131.2,437.7 134.6,455 137.2,456.8C139.8,458.6 141.8,448 144.5,440C147.2,432 150.6,420.5 153.4,409C156.2,397.5 158.7,381.9 161.2,371.1C163.7,360.3 166.5,346.9 168.5,344C170.5,341.1 171.5,345.9 173.4,353.4C175.3,360.9 177.9,377.5 180.1,389C182.3,400.5 185.1,415.1 186.8,422.3C188.5,429.5 189,433.1 190.5,432.3C192,431.6 193.7,427.2 195.7,417.8C197.7,408.4 200.5,386.3 202.3,375.6C204.2,364.9 205.4,357.8 206.8,353.4C208.2,348.9 209.1,348 210.6,348.9C212.1,349.8 213.4,353.7 215.7,358.9C218,364.1 221.6,374.2 224.6,380C227.6,385.8 230.9,391.9 233.5,393.4C236.1,394.9 237.9,390.9 240.1,389C242.3,387.1 244.9,387.5 246.8,382.3C248.7,377.1 249.8,363 251.3,357.8C252.8,352.6 253.8,352.4 255.7,351.1C257.5,349.8 260,350.6 262.4,350C264.8,349.4 268,346.9 270.2,347.8C272.4,348.7 273.7,352.8 275.7,355.6C277.7,358.4 280.5,360.1 282.4,364.5C284.2,368.9 285.3,375.3 286.8,382.3C288.3,389.3 289.8,399.5 291.3,406.7C292.8,413.9 293.7,423 295.7,425.6C297.7,428.2 301.3,424.3 303.5,422.3C305.7,420.3 307.4,415.8 309.1,413.4C310.8,411 311.8,408.5 313.5,407.8C315.2,407.1 317.4,409.9 319.1,409C320.8,408.1 322,407.1 323.5,402.3C325,397.5 326.3,386.3 328,380C329.7,373.7 331.5,367.6 333.5,364.5C335.5,361.4 338.2,360.6 340,361.1C341.8,361.7 342.8,365 344.5,367.8C346.2,370.6 348,375.2 350,377.8C352,380.4 354.8,382.8 356.7,383.4C358.6,384 359.4,379.5 361.1,381.2C362.8,382.9 364.5,391.7 366.7,393.4C368.9,395.1 372.1,390.8 374.5,391.2C376.9,391.6 379.1,392.3 381.1,395.6C383.1,398.9 384.8,404.9 386.7,411.2C388.6,417.5 390.4,426.7 392.3,433.4C394.2,440.1 396,449 397.8,451.2C399.6,453.4 401.5,448.5 403.4,446.8C405.2,445.1 406.9,440.8 408.9,441.2C410.9,441.6 413.2,446.4 415.6,449C418,451.6 420.8,457.2 423.4,456.8C426,456.4 428.6,451.4 431.2,446.8C433.8,442.2 437,435.7 439,429C441,422.3 441.9,414.5 443.4,406.7C444.9,398.9 446.3,387.9 447.9,382.3C449.4,376.8 451,373 452.7,373.4C454.4,373.8 455.9,380.8 457.9,384.5C459.9,388.2 462.5,392.1 464.5,395.6C466.5,399.1 468.4,403.9 470.1,405.6C471.8,407.3 472.8,408.8 474.5,405.6C476.2,402.5 478.2,389.1 480.1,386.7C482,384.3 483.9,390.6 485.7,391.2C487.5,391.8 489.3,388.5 491.2,390C493.1,391.5 495.1,397 496.8,400C498.6,403 499.9,408.9 501.7,407.8C503.5,406.7 505.4,397.1 507.9,393.4C510.4,389.7 514,388.1 516.8,385.6C519.6,383.1 522.4,379 524.6,378.3C526.8,377.6 528.2,381.8 530.1,381.2C532,380.6 533.8,375 535.7,374.5C537.6,374 539.1,378.7 541.3,378.3C543.5,377.9 547,373.3 549,372.3C551,371.3 552,371.6 553.5,372.3C555,373 556.3,376.1 557.9,376.7C559.5,377.2 561.3,372.5 563,375.6C564.7,378.8 565.6,391.9 567.9,395.6C570.2,399.3 574,396.9 576.8,397.8C579.6,398.7 582.4,402.9 584.6,401.2C586.8,399.5 588.5,388.4 590.2,387.8C591.9,387.2 592.2,395 594.6,397.8C597,400.6 602.1,401.5 604.6,404.5C607.1,407.5 607.5,415.4 609.7,415.6C611.9,415.8 615.2,407.6 618,405.6C620.8,403.6 624.3,405.8 626.7,403.4C629.1,401 630.4,393.8 632.2,391.2C634.1,388.6 635.8,390.9 637.8,387.8C639.8,384.7 642.5,378 644.5,372.3C646.5,366.6 648.5,357.5 650,353.4C651.5,349.3 651.9,347.2 653.4,347.8C654.9,348.4 657,350.9 658.9,356.7C660.8,362.4 662.6,374 664.5,382.3C666.4,390.6 668.3,399.9 670,406.7C671.7,413.5 673.4,423 674.9,423.4C676.4,423.8 677.5,414 678.9,409C680.3,404 681.8,396.6 683.4,393.4C685,390.2 686.8,389.4 688.5,390C690.2,390.6 691.7,392.4 693.4,396.7C695.1,401 696.9,409.5 698.9,415.6C700.9,421.7 703.4,429.1 705.6,433.4C707.8,437.7 710.3,439.7 712.3,441.2C714.3,442.7 715.9,441.6 717.8,442.3C719.6,443 721.7,446 723.4,445.6C725.1,445.2 726.3,443 727.9,440C729.5,437 731.2,428.9 732.7,427.8C734.2,426.7 735.2,431.2 736.7,433.4C738.2,435.6 740,440.8 741.9,441.2C743.8,441.6 746,438 747.9,435.6C749.8,433.2 751.7,429.9 753.4,426.7C755.1,423.5 756.6,416.7 758.3,416.7C760,416.7 761.7,423.4 763.4,426.7C765.1,430 766.8,437.1 768.5,436.7C770.2,436.3 771.6,430.6 773.4,424.5C775.1,418.4 777.1,407 779,400C780.9,393 783.1,385.8 784.6,382.3C786.1,378.8 787,378.2 788.3,378.9C789.6,379.6 790.7,383.7 792.3,386.7C793.9,389.7 795.7,395 797.9,396.7C800.1,398.4 803.5,398 805.7,396.7C807.9,395.4 809.4,393.3 811.2,388.9C813.1,384.4 814.9,374.1 816.8,370C818.7,365.9 820.5,364.7 822.4,364.5C824.2,364.3 826,365.4 827.9,368.9C829.8,372.4 831.8,381.9 833.5,385.6C835.2,389.3 836.4,391.2 837.9,391.2C839.4,391.2 840.7,389.7 842.4,385.6C844.1,381.5 846.2,370.6 847.9,366.7C849.6,362.8 850.7,362.5 852.4,362.3C854.1,362.1 855.9,363 857.9,365.6C859.9,368.2 862.7,375 864.6,377.8C866.5,380.6 867.4,383.2 869.1,382.3C870.8,381.4 872.4,374.9 874.6,372.3C876.8,369.7 881.1,367.6 882.4,366.7" stroke="#0000f5" stroke-width="5.6" fill="none" stroke-linejoin="round" stroke-linecap="butt"/>
<line x1="45" y1="40" x2="45" y2="720" stroke="#3a3a3a" stroke-width="1.4" />
<line x1="907.5" y1="40" x2="907.5" y2="720" stroke="#3a3a3a" stroke-width="1.4" />
<line x1="36" y1="40" x2="916.5" y2="40" stroke="#3a3a3a" stroke-width="1.4" />
<line x1="36" y1="720" x2="916.5" y2="720" stroke="#3a3a3a" stroke-width="1.4" />
<line x1="36" y1="153.3" x2="45" y2="153.3" stroke="#3a3a3a" stroke-width="1.4" />
<line x1="907.5" y1="153.3" x2="916.5" y2="153.3" stroke="#3a3a3a" stroke-width="1.4" />
<line x1="36" y1="266.7" x2="45" y2="266.7" stroke="#3a3a3a" stroke-width="1.4" />
<line x1="907.5" y1="266.7" x2="916.5" y2="266.7" stroke="#3a3a3a" stroke-width="1.4" />
<line x1="36" y1="380" x2="45" y2="380" stroke="#3a3a3a" stroke-width="1.4" />
<line x1="907.5" y1="380" x2="916.5" y2="380" stroke="#3a3a3a" stroke-width="1.4" />
<line x1="36" y1="493.3" x2="45" y2="493.3" stroke="#3a3a3a" stroke-width="1.4" />
<line x1="907.5" y1="493.3" x2="916.5" y2="493.3" stroke="#3a3a3a" stroke-width="1.4" />
<line x1="36" y1="606.7" x2="45" y2="606.7" stroke="#3a3a3a" stroke-width="1.4" />
<line x1="907.5" y1="606.7" x2="916.5" y2="606.7" stroke="#3a3a3a" stroke-width="1.4" />
<line x1="45" y1="31" x2="45" y2="40" stroke="#3a3a3a" stroke-width="1.4" />
<line x1="45" y1="720" x2="45" y2="729" stroke="#3a3a3a" stroke-width="1.4" />
<text x="45" y="753.5" font-size="16.6" text-anchor="middle" fill="#000" font-weight="bold" >1000</text>
<line x1="212.5" y1="31" x2="212.5" y2="40" stroke="#3a3a3a" stroke-width="1.4" />
<line x1="212.5" y1="720" x2="212.5" y2="729" stroke="#3a3a3a" stroke-width="1.4" />
<text x="212.5" y="753.5" font-size="16.6" text-anchor="middle" fill="#000" font-weight="bold" >1200</text>
<line x1="380" y1="31" x2="380" y2="40" stroke="#3a3a3a" stroke-width="1.4" />
<line x1="380" y1="720" x2="380" y2="729" stroke="#3a3a3a" stroke-width="1.4" />
<text x="380" y="753.5" font-size="16.6" text-anchor="middle" fill="#000" font-weight="bold" >1400</text>
<line x1="547.5" y1="31" x2="547.5" y2="40" stroke="#3a3a3a" stroke-width="1.4" />
<line x1="547.5" y1="720" x2="547.5" y2="729" stroke="#3a3a3a" stroke-width="1.4" />
<text x="547.5" y="753.5" font-size="16.6" text-anchor="middle" fill="#000" font-weight="bold" >1600</text>
<line x1="715" y1="31" x2="715" y2="40" stroke="#3a3a3a" stroke-width="1.4" />
<line x1="715" y1="720" x2="715" y2="729" stroke="#3a3a3a" stroke-width="1.4" />
<text x="715" y="753.5" font-size="16.6" text-anchor="middle" fill="#000" font-weight="bold" >1800</text>
<line x1="882.5" y1="31" x2="882.5" y2="40" stroke="#3a3a3a" stroke-width="1.4" />
<line x1="882.5" y1="720" x2="882.5" y2="729" stroke="#3a3a3a" stroke-width="1.4" />
<text x="882.5" y="753.5" font-size="16.6" text-anchor="middle" fill="#000" font-weight="bold" >2000</text>
<text x="29" y="46" font-size="16.6" text-anchor="end" fill="#000" font-weight="bold" >6</text>
<text x="29" y="159.3" font-size="16.6" text-anchor="end" fill="#000" font-weight="bold" >4</text>
<text x="29" y="272.7" font-size="16.6" text-anchor="end" fill="#000" font-weight="bold" >2</text>
<text x="29" y="386" font-size="16.6" text-anchor="end" fill="#000" font-weight="bold" >0</text>
<text x="29" y="499.3" font-size="16.6" text-anchor="end" fill="#000" font-weight="bold" >-2</text>
<text x="29" y="612.7" font-size="16.6" text-anchor="end" fill="#000" font-weight="bold" >-4</text>
<text x="29" y="726" font-size="16.6" text-anchor="end" fill="#000" font-weight="bold" >-6</text>
<text x="476.5" y="778" font-size="16.8" text-anchor="middle" fill="#000" font-weight="bold" >Time [years]</text>
<line x1="72" y1="75" x2="135.5" y2="75" stroke="#e8000b" stroke-width="1.2" />
<line x1="72" y1="97.3" x2="135.5" y2="97.3" stroke="#000" stroke-width="1.2" />
<rect x="72" y="111" width="64.5" height="17" fill="#cbcbcb"/>
<text x="141.5" y="82" font-size="16.8" text-anchor="start" fill="#000" font-weight="bold" >scPDSI</text>
<text x="141.5" y="104" font-size="16.8" text-anchor="start" fill="#000" font-weight="bold" >PDSI (OWDA)</text>
<text x="141.5" y="126.3" font-size="16.8" text-anchor="start" fill="#000" font-weight="bold" >Uncertainty bounds</text>
<text x="12" y="23" font-size="28" text-anchor="start" fill="#000" font-weight="bold" >a)</text>
<rect x="801" y="85.3" width="104.8" height="602.7" fill="none" stroke="#2f5597" stroke-width="2.9"/>
<line x1="906.3" y1="85.5" x2="959.9" y2="226.6" stroke="#000" stroke-width="1.8" />
<polygon points="962.3,233 955.7,226.6 963,223.8" fill="#000"/>
<line x1="906.3" y1="687.8" x2="959.8" y2="556.3" stroke="#000" stroke-width="1.8" />
<polygon points="962.4,550 962.9,559.2 955.6,556.2" fill="#000"/>
</g>
<g id="inset">
<line x1="993.2" y1="240" x2="993.2" y2="516.3" stroke="#8df28d" stroke-width="1" stroke-dasharray="1 1.6"/>
<line x1="1050.4" y1="240" x2="1050.4" y2="516.3" stroke="#8df28d" stroke-width="1" stroke-dasharray="1 1.6"/>
<line x1="1107.6" y1="240" x2="1107.6" y2="516.3" stroke="#8df28d" stroke-width="1" stroke-dasharray="1 1.6"/>
<line x1="1164.7" y1="240" x2="1164.7" y2="516.3" stroke="#8df28d" stroke-width="1" stroke-dasharray="1 1.6"/>
<line x1="1221.9" y1="240" x2="1221.9" y2="516.3" stroke="#8df28d" stroke-width="1" stroke-dasharray="1 1.6"/>
<line x1="1279.1" y1="240" x2="1279.1" y2="516.3" stroke="#8df28d" stroke-width="1" stroke-dasharray="1 1.6"/>
<line x1="964.6" y1="460.8" x2="1307.7" y2="460.8" stroke="#8df28d" stroke-width="1" stroke-dasharray="1 1.6"/>
<line x1="964.6" y1="405.6" x2="1307.7" y2="405.6" stroke="#8df28d" stroke-width="1" stroke-dasharray="1 1.6"/>
<line x1="964.6" y1="350.4" x2="1307.7" y2="350.4" stroke="#8df28d" stroke-width="1" stroke-dasharray="1 1.6"/>
<line x1="964.6" y1="295.2" x2="1307.7" y2="295.2" stroke="#8df28d" stroke-width="1" stroke-dasharray="1 1.6"/>
<line x1="1021.5" y1="240" x2="1021.5" y2="516.3" stroke="#cacaca" stroke-width="1.1" />
<line x1="1078.5" y1="240" x2="1078.5" y2="516.3" stroke="#cacaca" stroke-width="1.1" />
<line x1="1136.5" y1="240" x2="1136.5" y2="516.3" stroke="#cacaca" stroke-width="1.1" />
<line x1="1193.5" y1="240" x2="1193.5" y2="516.3" stroke="#cacaca" stroke-width="1.1" />
<line x1="1250.5" y1="240" x2="1250.5" y2="516.3" stroke="#cacaca" stroke-width="1.1" />
<line x1="964.6" y1="488.5" x2="1307.7" y2="488.5" stroke="#cacaca" stroke-width="1.1" />
<line x1="964.6" y1="432.5" x2="1307.7" y2="432.5" stroke="#cacaca" stroke-width="1.1" />
<line x1="964.6" y1="377.5" x2="1307.7" y2="377.5" stroke="#cacaca" stroke-width="1.1" />
<line x1="964.6" y1="322.5" x2="1307.7" y2="322.5" stroke="#cacaca" stroke-width="1.1" />
<line x1="964.6" y1="267.5" x2="1307.7" y2="267.5" stroke="#cacaca" stroke-width="1.1" />
<path d="M967.5,394.8 970.3,385.8 973.2,358.6 976,406.7 978.9,423.6 981.8,427.6 984.6,408.3 987.5,445.4 990.3,428.6 993.2,344.1 996.1,420.6 998.9,365 1001.8,345.1 1004.6,332.2 1007.5,385.8 1010.3,341.1 1013.2,384.8 1016.1,395.8 1018.9,394.8 1021.8,416.6 1024.6,513 1027.5,412.7 1030.4,384.8 1033.2,333.2 1036.1,363.4 1038.9,302.4 1041.8,298.4 1044.7,415.2 1047.5,419 1050.4,344.1 1053.2,302 1056.1,318.3 1059,376.9 1061.8,447.4 1064.7,388.8 1067.5,326.2 1070.4,349.1 1073.2,372.9 1076.1,355 1079,384.8 1081.8,372.9 1084.7,418.6 1087.5,422.6 1090.4,392.8 1093.3,384.8 1096.1,349.1 1099,485.2 1101.8,429.5 1104.7,420.6 1107.6,384.8 1110.4,355 1113.3,420.6 1116.1,388.8 1119,376.9 1121.9,346.1 1124.7,384.8 1127.6,359 1130.4,329.2 1133.3,369.9 1136.2,357 1139,352 1141.9,409.7 1144.7,368.9 1147.6,402.7 1150.4,346.1 1153.3,341.5 1156.2,347.5 1159,349.1 1161.9,357 1164.7,360 1167.6,377.9 1170.5,373.9 1173.3,428.6 1176.2,432.1 1179,381.9 1181.9,476.2 1184.8,364.6 1187.6,368.9 1190.5,372.3 1193.3,346.1 1196.2,338.1 1199.1,374.9 1201.9,400.7 1204.8,407.1 1207.6,375.9 1210.5,372.9 1213.3,340.1 1216.2,374.9 1219.1,406.7 1221.9,419.6 1224.8,421.6 1227.6,415.6 1230.5,384.8 1233.4,352 1236.2,348.1 1239.1,397.8 1241.9,390.8 1244.8,372.9 1247.7,333.2 1250.5,349.1 1253.4,334.2 1256.2,330.8 1259.1,420.6 1262,400.7 1264.8,393.8 1267.7,382.8 1270.5,343.1 1273.4,371.9 1276.2,367 1279.1,340.7 1282,373.9 1284.8,378.3" stroke="#000" stroke-width="1.35" fill="none" stroke-linejoin="round"/>
<path d="M967.5,382.5 970.3,367.3 973.2,366.6 976,400.7 978.9,380.9 981.8,367.3 984.6,374.5 987.5,373.3 990.3,362 993.2,323.6 996.1,404.7 998.9,365 1001.8,360 1004.6,340.1 1007.5,358 1010.3,321.3 1013.2,384.4 1016.1,377.9 1018.9,363 1021.8,349.5 1024.6,446.4 1027.5,389.8 1030.4,350.1 1033.2,326.2 1036.1,359 1038.9,313.3 1041.8,310.3 1044.7,365 1047.5,395.8 1050.4,357 1053.2,321.3 1056.1,361 1059,386.8 1061.8,416.6 1064.7,374.9 1067.5,344.1 1070.4,348.1 1073.2,376.9 1076.1,350.1 1079,321.3 1081.8,310.3 1084.7,365 1087.5,430.5 1090.4,398.7 1093.3,383.8 1096.1,390.8 1099,432.5 1101.8,401.7 1104.7,450.4 1107.6,408.7 1110.4,349.5 1113.3,417.6 1116.1,394.8 1119,389.8 1121.9,346.1 1124.7,334.2 1127.6,352 1130.4,327.6 1133.3,409.1 1136.2,374.9 1139,343.5 1141.9,360 1144.7,388.8 1147.6,419 1150.4,314.3 1153.3,287.1 1156.2,323.2 1159,341.1 1161.9,350.1 1164.7,338.1 1167.6,396.8 1170.5,396.8 1173.3,425.6 1176.2,396.8 1179,368.9 1181.9,466.3 1184.8,367 1187.6,364 1190.5,349.1 1193.3,331.2 1196.2,323.6 1199.1,365 1201.9,404.7 1204.8,398.7 1207.6,366 1210.5,369.9 1213.3,328.8 1216.2,374.9 1219.1,420.6 1221.9,452.4 1224.8,427.6 1227.6,444 1230.5,402.7 1233.4,373.9 1236.2,370.9 1239.1,406.7 1241.9,403.7 1244.8,374.9 1247.7,339.1 1250.5,371.9 1253.4,354 1256.2,355 1259.1,448.8 1262,422.6 1264.8,408.7 1267.7,401.7 1270.5,374.9 1273.4,400.7 1276.2,402.7 1279.1,372.3 1282,414.2 1284.8,418.6 1287.7,386.8 1290.5,408.7 1293.4,434.9 1296.3,400.3 1299.1,412.7 1302,435.5" stroke="#ff0000" stroke-width="1.35" fill="none" stroke-linejoin="round"/>
<rect x="964.6" y="240.0" width="343.1" height="276.3" fill="none" stroke="#111" stroke-width="1.3"/>
<line x1="961.8" y1="516" x2="964.6" y2="516" stroke="#111" stroke-width="1.2" />
<line x1="1307.7" y1="516" x2="1310.5" y2="516" stroke="#111" stroke-width="1.2" />
<line x1="959.1" y1="488.4" x2="964.6" y2="488.4" stroke="#111" stroke-width="1.2" />
<line x1="1307.7" y1="488.4" x2="1313.2" y2="488.4" stroke="#111" stroke-width="1.2" />
<line x1="961.8" y1="460.8" x2="964.6" y2="460.8" stroke="#111" stroke-width="1.2" />
<line x1="1307.7" y1="460.8" x2="1310.5" y2="460.8" stroke="#111" stroke-width="1.2" />
<line x1="959.1" y1="433.2" x2="964.6" y2="433.2" stroke="#111" stroke-width="1.2" />
<line x1="1307.7" y1="433.2" x2="1313.2" y2="433.2" stroke="#111" stroke-width="1.2" />
<line x1="961.8" y1="405.6" x2="964.6" y2="405.6" stroke="#111" stroke-width="1.2" />
<line x1="1307.7" y1="405.6" x2="1310.5" y2="405.6" stroke="#111" stroke-width="1.2" />
<line x1="959.1" y1="378" x2="964.6" y2="378" stroke="#111" stroke-width="1.2" />
<line x1="1307.7" y1="378" x2="1313.2" y2="378" stroke="#111" stroke-width="1.2" />
<line x1="961.8" y1="350.4" x2="964.6" y2="350.4" stroke="#111" stroke-width="1.2" />
<line x1="1307.7" y1="350.4" x2="1310.5" y2="350.4" stroke="#111" stroke-width="1.2" />
<line x1="959.1" y1="322.8" x2="964.6" y2="322.8" stroke="#111" stroke-width="1.2" />
<line x1="1307.7" y1="322.8" x2="1313.2" y2="322.8" stroke="#111" stroke-width="1.2" />
<line x1="961.8" y1="295.2" x2="964.6" y2="295.2" stroke="#111" stroke-width="1.2" />
<line x1="1307.7" y1="295.2" x2="1310.5" y2="295.2" stroke="#111" stroke-width="1.2" />
<line x1="959.1" y1="267.6" x2="964.6" y2="267.6" stroke="#111" stroke-width="1.2" />
<line x1="1307.7" y1="267.6" x2="1313.2" y2="267.6" stroke="#111" stroke-width="1.2" />
<line x1="961.8" y1="240" x2="964.6" y2="240" stroke="#111" stroke-width="1.2" />
<line x1="1307.7" y1="240" x2="1310.5" y2="240" stroke="#111" stroke-width="1.2" />
<line x1="964.6" y1="516.3" x2="964.6" y2="521.5" stroke="#111" stroke-width="1.2" />
<line x1="964.6" y1="240" x2="964.6" y2="245.2" stroke="#111" stroke-width="1.2" />
<line x1="993.2" y1="516.3" x2="993.2" y2="519.3" stroke="#111" stroke-width="1.2" />
<line x1="993.2" y1="240" x2="993.2" y2="243" stroke="#111" stroke-width="1.2" />
<line x1="1021.8" y1="516.3" x2="1021.8" y2="521.5" stroke="#111" stroke-width="1.2" />
<line x1="1021.8" y1="240" x2="1021.8" y2="245.2" stroke="#111" stroke-width="1.2" />
<line x1="1050.4" y1="516.3" x2="1050.4" y2="519.3" stroke="#111" stroke-width="1.2" />
<line x1="1050.4" y1="240" x2="1050.4" y2="243" stroke="#111" stroke-width="1.2" />
<line x1="1079" y1="516.3" x2="1079" y2="521.5" stroke="#111" stroke-width="1.2" />
<line x1="1079" y1="240" x2="1079" y2="245.2" stroke="#111" stroke-width="1.2" />
<line x1="1107.6" y1="516.3" x2="1107.6" y2="519.3" stroke="#111" stroke-width="1.2" />
<line x1="1107.6" y1="240" x2="1107.6" y2="243" stroke="#111" stroke-width="1.2" />
<line x1="1136.2" y1="516.3" x2="1136.2" y2="521.5" stroke="#111" stroke-width="1.2" />
<line x1="1136.2" y1="240" x2="1136.2" y2="245.2" stroke="#111" stroke-width="1.2" />
<line x1="1164.7" y1="516.3" x2="1164.7" y2="519.3" stroke="#111" stroke-width="1.2" />
<line x1="1164.7" y1="240" x2="1164.7" y2="243" stroke="#111" stroke-width="1.2" />
<line x1="1193.3" y1="516.3" x2="1193.3" y2="521.5" stroke="#111" stroke-width="1.2" />
<line x1="1193.3" y1="240" x2="1193.3" y2="245.2" stroke="#111" stroke-width="1.2" />
<line x1="1221.9" y1="516.3" x2="1221.9" y2="519.3" stroke="#111" stroke-width="1.2" />
<line x1="1221.9" y1="240" x2="1221.9" y2="243" stroke="#111" stroke-width="1.2" />
<line x1="1250.5" y1="516.3" x2="1250.5" y2="521.5" stroke="#111" stroke-width="1.2" />
<line x1="1250.5" y1="240" x2="1250.5" y2="245.2" stroke="#111" stroke-width="1.2" />
<line x1="1279.1" y1="516.3" x2="1279.1" y2="519.3" stroke="#111" stroke-width="1.2" />
<line x1="1279.1" y1="240" x2="1279.1" y2="243" stroke="#111" stroke-width="1.2" />
<line x1="1307.7" y1="516.3" x2="1307.7" y2="521.5" stroke="#111" stroke-width="1.2" />
<line x1="1307.7" y1="240" x2="1307.7" y2="245.2" stroke="#111" stroke-width="1.2" />
<text x="964.6" y="533.8" font-size="10.1" text-anchor="middle" fill="#000" font-weight="bold" >1900</text>
<text x="1021.8" y="533.8" font-size="10.1" text-anchor="middle" fill="#000" font-weight="bold" >1920</text>
<text x="1079" y="533.8" font-size="10.1" text-anchor="middle" fill="#000" font-weight="bold" >1940</text>
<text x="1136.2" y="533.8" font-size="10.1" text-anchor="middle" fill="#000" font-weight="bold" >1960</text>
<text x="1193.3" y="533.8" font-size="10.1" text-anchor="middle" fill="#000" font-weight="bold" >1980</text>
<text x="1250.5" y="533.8" font-size="10.1" text-anchor="middle" fill="#000" font-weight="bold" >2000</text>
<text x="1307.7" y="533.8" font-size="10.1" text-anchor="middle" fill="#000" font-weight="bold" >2020</text>
<text x="955.3" y="491.8" font-size="9.4" text-anchor="end" fill="#000" font-weight="bold" >-4</text>
<text x="1316" y="491.8" font-size="9.4" text-anchor="start" fill="#ff0000" font-weight="bold" >-4</text>
<text x="955.3" y="436.6" font-size="9.4" text-anchor="end" fill="#000" font-weight="bold" >-2</text>
<text x="1316" y="436.6" font-size="9.4" text-anchor="start" fill="#ff0000" font-weight="bold" >-2</text>
<text x="955.3" y="381.4" font-size="9.4" text-anchor="end" fill="#000" font-weight="bold" >0</text>
<text x="1316" y="381.4" font-size="9.4" text-anchor="start" fill="#ff0000" font-weight="bold" >0</text>
<text x="955.3" y="326.2" font-size="9.4" text-anchor="end" fill="#000" font-weight="bold" >2</text>
<text x="1316" y="326.2" font-size="9.4" text-anchor="start" fill="#ff0000" font-weight="bold" >2</text>
<text x="955.3" y="271" font-size="9.4" text-anchor="end" fill="#000" font-weight="bold" >4</text>
<text x="1316" y="271" font-size="9.4" text-anchor="start" fill="#ff0000" font-weight="bold" >4</text>
<text x="0" y="0" font-size="14" text-anchor="middle" fill="#000" font-weight="bold" transform="translate(940.5,379) rotate(-90)">PDSI (OWDA)</text>
<text x="0" y="0" font-size="14" text-anchor="middle" fill="#ff0000" font-weight="bold" transform="translate(1331,378.5) rotate(90)">scPDSI</text>
<text x="1303" y="255.5" font-size="14.2" text-anchor="end" fill="#000" font-weight="bold" >r = 0.71</text>
</g>
<g id="panelB">
<rect x="576.2" y="827.2" width="96.8" height="491.8" fill="#ffff80"/>
<line x1="576.2" y1="827.2" x2="576.2" y2="1319" stroke="#a8a8a8" stroke-width="1.2" />
<line x1="88" y1="827.2" x2="88" y2="1319" stroke="#d6d6d6" stroke-width="1" />
<line x1="138.8" y1="827.2" x2="138.8" y2="1319" stroke="#d6d6d6" stroke-width="1" />
<line x1="189.7" y1="827.2" x2="189.7" y2="1319" stroke="#d6d6d6" stroke-width="1" />
<line x1="240.6" y1="827.2" x2="240.6" y2="1319" stroke="#d6d6d6" stroke-width="1" />
<line x1="291.4" y1="827.2" x2="291.4" y2="1319" stroke="#d6d6d6" stroke-width="1" />
<line x1="342.2" y1="827.2" x2="342.2" y2="1319" stroke="#d6d6d6" stroke-width="1" />
<line x1="393.1" y1="827.2" x2="393.1" y2="1319" stroke="#d6d6d6" stroke-width="1" />
<line x1="443.9" y1="827.2" x2="443.9" y2="1319" stroke="#d6d6d6" stroke-width="1" />
<line x1="494.8" y1="827.2" x2="494.8" y2="1319" stroke="#d6d6d6" stroke-width="1" />
<line x1="545.7" y1="827.2" x2="545.7" y2="1319" stroke="#d6d6d6" stroke-width="1" />
<line x1="596.5" y1="827.2" x2="596.5" y2="1319" stroke="#d6d6d6" stroke-width="1" />
<line x1="647.4" y1="827.2" x2="647.4" y2="1319" stroke="#d6d6d6" stroke-width="1" />
<line x1="62.7" y1="1270" x2="673" y2="1270" stroke="#d6d6d6" stroke-width="1" />
<line x1="62.7" y1="1171.5" x2="673" y2="1171.5" stroke="#d6d6d6" stroke-width="1" />
<line x1="62.7" y1="1073" x2="673" y2="1073" stroke="#d6d6d6" stroke-width="1" />
<line x1="62.7" y1="974.5" x2="673" y2="974.5" stroke="#d6d6d6" stroke-width="1" />
<line x1="62.7" y1="876" x2="673" y2="876" stroke="#d6d6d6" stroke-width="1" />
<defs><linearGradient id="gb" x1="0" y1="0" x2="0" y2="1"><stop offset="0" stop-color="#1a8405"/><stop offset="0.12" stop-color="#2a8508"/><stop offset="0.55" stop-color="#a8861c"/><stop offset="0.9" stop-color="#f0862a"/><stop offset="1" stop-color="#f5882c"/></linearGradient></defs>
<line x1="88" y1="978.4" x2="88" y2="1207.5" stroke="#000" stroke-width="1.6" />
<line x1="79.3" y1="978.4" x2="96.7" y2="978.4" stroke="#000" stroke-width="1.6" />
<line x1="79.3" y1="1207.5" x2="96.7" y2="1207.5" stroke="#000" stroke-width="1.6" />
<rect x="71.5" y="1059.7" width="33.0" height="75.4" fill="url(#gb)" stroke="#000" stroke-width="1.5"/>
<line x1="71.5" y1="1109" x2="104.5" y2="1109" stroke="#000" stroke-width="1.6" />
<rect x="85.2" y="1098.8" width="5.6" height="5.6" fill="#000"/>
<polygon points="88,1253.5 92.2,1257.7 88,1261.9 83.8,1257.7" fill="#000"/>
<line x1="138.8" y1="916.9" x2="138.8" y2="1255.7" stroke="#000" stroke-width="1.6" />
<line x1="130.2" y1="916.9" x2="147.5" y2="916.9" stroke="#000" stroke-width="1.6" />
<line x1="130.2" y1="1255.7" x2="147.5" y2="1255.7" stroke="#000" stroke-width="1.6" />
<rect x="122.3" y="1044.9" width="33.0" height="87.2" fill="url(#gb)" stroke="#000" stroke-width="1.5"/>
<line x1="122.3" y1="1098.1" x2="155.3" y2="1098.1" stroke="#000" stroke-width="1.6" />
<rect x="136" y="1090.9" width="5.6" height="5.6" fill="#000"/>
<polygon points="138.8,1274.2 143,1278.4 138.8,1282.6 134.7,1278.4" fill="#000"/>
<line x1="189.7" y1="945" x2="189.7" y2="1190.7" stroke="#000" stroke-width="1.6" />
<line x1="181" y1="945" x2="198.4" y2="945" stroke="#000" stroke-width="1.6" />
<line x1="181" y1="1190.7" x2="198.4" y2="1190.7" stroke="#000" stroke-width="1.6" />
<rect x="173.2" y="1026.7" width="33.0" height="72.4" fill="url(#gb)" stroke="#000" stroke-width="1.5"/>
<line x1="173.2" y1="1062.7" x2="206.2" y2="1062.7" stroke="#000" stroke-width="1.6" />
<rect x="186.9" y="1064.3" width="5.6" height="5.6" fill="#000"/>
<polygon points="189.7,913.2 193.9,917.4 189.7,921.6 185.5,917.4" fill="#000"/>
<line x1="240.6" y1="932.1" x2="240.6" y2="1255.2" stroke="#000" stroke-width="1.6" />
<line x1="231.9" y1="932.1" x2="249.2" y2="932.1" stroke="#000" stroke-width="1.6" />
<line x1="231.9" y1="1255.2" x2="249.2" y2="1255.2" stroke="#000" stroke-width="1.6" />
<rect x="224.1" y="1029.2" width="33.0" height="107.9" fill="url(#gb)" stroke="#000" stroke-width="1.5"/>
<line x1="224.1" y1="1078.9" x2="257.1" y2="1078.9" stroke="#000" stroke-width="1.6" />
<rect x="237.8" y="1083.5" width="5.6" height="5.6" fill="#000"/>
<line x1="291.4" y1="977" x2="291.4" y2="1260.6" stroke="#000" stroke-width="1.6" />
<line x1="282.7" y1="977" x2="300.1" y2="977" stroke="#000" stroke-width="1.6" />
<line x1="282.7" y1="1260.6" x2="300.1" y2="1260.6" stroke="#000" stroke-width="1.6" />
<rect x="274.9" y="1063.6" width="33.0" height="91.1" fill="url(#gb)" stroke="#000" stroke-width="1.5"/>
<line x1="274.9" y1="1108.5" x2="307.9" y2="1108.5" stroke="#000" stroke-width="1.6" />
<rect x="288.6" y="1106.6" width="5.6" height="5.6" fill="#000"/>
<line x1="342.2" y1="953.8" x2="342.2" y2="1201.5" stroke="#000" stroke-width="1.6" />
<line x1="333.6" y1="953.8" x2="350.9" y2="953.8" stroke="#000" stroke-width="1.6" />
<line x1="333.6" y1="1201.5" x2="350.9" y2="1201.5" stroke="#000" stroke-width="1.6" />
<rect x="325.8" y="1043.5" width="33.0" height="69.4" fill="url(#gb)" stroke="#000" stroke-width="1.5"/>
<line x1="325.8" y1="1075.5" x2="358.8" y2="1075.5" stroke="#000" stroke-width="1.6" />
<rect x="339.4" y="1079.6" width="5.6" height="5.6" fill="#000"/>
<polygon points="342.2,918.6 346.4,922.8 342.2,927 338.1,922.8" fill="#000"/>
<polygon points="342.2,1255 346.4,1259.2 342.2,1263.4 338.1,1259.2" fill="#000"/>
<polygon points="342.2,1290.4 346.4,1294.6 342.2,1298.8 338.1,1294.6" fill="#000"/>
<line x1="393.1" y1="944" x2="393.1" y2="1255.2" stroke="#000" stroke-width="1.6" />
<line x1="384.4" y1="944" x2="401.8" y2="944" stroke="#000" stroke-width="1.6" />
<line x1="384.4" y1="1255.2" x2="401.8" y2="1255.2" stroke="#000" stroke-width="1.6" />
<rect x="376.6" y="1036.6" width="33.0" height="102.9" fill="url(#gb)" stroke="#000" stroke-width="1.5"/>
<line x1="376.6" y1="1087.3" x2="409.6" y2="1087.3" stroke="#000" stroke-width="1.6" />
<rect x="390.3" y="1085.5" width="5.6" height="5.6" fill="#000"/>
<line x1="443.9" y1="916.4" x2="443.9" y2="1221.7" stroke="#000" stroke-width="1.6" />
<line x1="435.2" y1="916.4" x2="452.6" y2="916.4" stroke="#000" stroke-width="1.6" />
<line x1="435.2" y1="1221.7" x2="452.6" y2="1221.7" stroke="#000" stroke-width="1.6" />
<rect x="427.4" y="1048.4" width="33.0" height="88.7" fill="url(#gb)" stroke="#000" stroke-width="1.5"/>
<line x1="427.4" y1="1086.8" x2="460.4" y2="1086.8" stroke="#000" stroke-width="1.6" />
<rect x="441.1" y="1083.5" width="5.6" height="5.6" fill="#000"/>
<polygon points="443.9,888.5 448.1,892.7 443.9,896.9 439.8,892.7" fill="#000"/>
<line x1="494.8" y1="952.8" x2="494.8" y2="1275.9" stroke="#000" stroke-width="1.6" />
<line x1="486.1" y1="952.8" x2="503.5" y2="952.8" stroke="#000" stroke-width="1.6" />
<line x1="486.1" y1="1275.9" x2="503.5" y2="1275.9" stroke="#000" stroke-width="1.6" />
<rect x="478.3" y="1052.8" width="33.0" height="109.8" fill="url(#gb)" stroke="#000" stroke-width="1.5"/>
<line x1="478.3" y1="1107" x2="511.3" y2="1107" stroke="#000" stroke-width="1.6" />
<rect x="492" y="1106.6" width="5.6" height="5.6" fill="#000"/>
<line x1="545.7" y1="929.7" x2="545.7" y2="1247.3" stroke="#000" stroke-width="1.6" />
<line x1="537" y1="929.7" x2="554.4" y2="929.7" stroke="#000" stroke-width="1.6" />
<line x1="537" y1="1247.3" x2="554.4" y2="1247.3" stroke="#000" stroke-width="1.6" />
<rect x="529.2" y="1019.8" width="33.0" height="95.1" fill="url(#gb)" stroke="#000" stroke-width="1.5"/>
<line x1="529.2" y1="1062.2" x2="562.2" y2="1062.2" stroke="#000" stroke-width="1.6" />
<rect x="542.9" y="1066.8" width="5.6" height="5.6" fill="#000"/>
<polygon points="545.7,1290.4 549.9,1294.6 545.7,1298.8 541.5,1294.6" fill="#000"/>
<line x1="596.5" y1="983.4" x2="596.5" y2="1260.6" stroke="#000" stroke-width="1.6" />
<line x1="587.8" y1="983.4" x2="605.2" y2="983.4" stroke="#000" stroke-width="1.6" />
<line x1="587.8" y1="1260.6" x2="605.2" y2="1260.6" stroke="#000" stroke-width="1.6" />
<rect x="580" y="1080.4" width="33.0" height="79.3" fill="url(#gb)" stroke="#000" stroke-width="1.5"/>
<line x1="580" y1="1116.3" x2="613" y2="1116.3" stroke="#000" stroke-width="1.6" />
<rect x="593.7" y="1119" width="5.6" height="5.6" fill="#000"/>
<line x1="647.4" y1="1016.4" x2="647.4" y2="1253.7" stroke="#000" stroke-width="1.6" />
<line x1="638.6" y1="1016.4" x2="656.1" y2="1016.4" stroke="#000" stroke-width="1.6" />
<line x1="638.6" y1="1253.7" x2="656.1" y2="1253.7" stroke="#000" stroke-width="1.6" />
<rect x="630.9" y="1078.4" width="33.0" height="87.7" fill="url(#gb)" stroke="#000" stroke-width="1.5"/>
<line x1="630.9" y1="1115.8" x2="663.9" y2="1115.8" stroke="#000" stroke-width="1.6" />
<rect x="644.6" y="1118.5" width="5.6" height="5.6" fill="#000"/>
<rect x="62.7" y="827.2" width="610.3" height="491.8" fill="none" stroke="#000" stroke-width="1.9"/>
<line x1="53.2" y1="1270" x2="62.7" y2="1270" stroke="#000" stroke-width="1.7" />
<text x="45.8" y="1276" font-size="16.8" text-anchor="end" fill="#000" font-weight="bold" >-4</text>
<line x1="58.2" y1="1220.8" x2="62.7" y2="1220.8" stroke="#000" stroke-width="1.5" />
<line x1="53.2" y1="1171.5" x2="62.7" y2="1171.5" stroke="#000" stroke-width="1.7" />
<text x="45.8" y="1177.5" font-size="16.8" text-anchor="end" fill="#000" font-weight="bold" >-2</text>
<line x1="58.2" y1="1122.2" x2="62.7" y2="1122.2" stroke="#000" stroke-width="1.5" />
<line x1="53.2" y1="1073" x2="62.7" y2="1073" stroke="#000" stroke-width="1.7" />
<text x="45.8" y="1079" font-size="16.8" text-anchor="end" fill="#000" font-weight="bold" >0</text>
<line x1="58.2" y1="1023.8" x2="62.7" y2="1023.8" stroke="#000" stroke-width="1.5" />
<line x1="53.2" y1="974.5" x2="62.7" y2="974.5" stroke="#000" stroke-width="1.7" />
<text x="45.8" y="980.5" font-size="16.8" text-anchor="end" fill="#000" font-weight="bold" >2</text>
<line x1="58.2" y1="925.2" x2="62.7" y2="925.2" stroke="#000" stroke-width="1.5" />
<line x1="53.2" y1="876" x2="62.7" y2="876" stroke="#000" stroke-width="1.7" />
<text x="45.8" y="882" font-size="16.8" text-anchor="end" fill="#000" font-weight="bold" >4</text>
<line x1="58.2" y1="827.2" x2="62.7" y2="827.2" stroke="#000" stroke-width="1.9" />
<line x1="58.2" y1="1319" x2="62.7" y2="1319" stroke="#000" stroke-width="1.9" />
<line x1="88" y1="1319" x2="88" y2="1328.5" stroke="#000" stroke-width="1.7" />
<text x="0" y="0" font-size="18.4" text-anchor="end" fill="#000" font-weight="bold" transform="translate(103.4,1348.8) rotate(-45)">1001-1100</text>
<line x1="138.8" y1="1319" x2="138.8" y2="1328.5" stroke="#000" stroke-width="1.7" />
<text x="0" y="0" font-size="18.4" text-anchor="end" fill="#000" font-weight="bold" transform="translate(154.2,1348.8) rotate(-45)">1101-1200</text>
<line x1="189.7" y1="1319" x2="189.7" y2="1328.5" stroke="#000" stroke-width="1.7" />
<text x="0" y="0" font-size="18.4" text-anchor="end" fill="#000" font-weight="bold" transform="translate(205.1,1348.8) rotate(-45)">1201-1300</text>
<line x1="240.6" y1="1319" x2="240.6" y2="1328.5" stroke="#000" stroke-width="1.7" />
<text x="0" y="0" font-size="18.4" text-anchor="end" fill="#000" font-weight="bold" transform="translate(256,1348.8) rotate(-45)">1301-1400</text>
<line x1="291.4" y1="1319" x2="291.4" y2="1328.5" stroke="#000" stroke-width="1.7" />
<text x="0" y="0" font-size="18.4" text-anchor="end" fill="#000" font-weight="bold" transform="translate(306.8,1348.8) rotate(-45)">1401-1500</text>
<line x1="342.2" y1="1319" x2="342.2" y2="1328.5" stroke="#000" stroke-width="1.7" />
<text x="0" y="0" font-size="18.4" text-anchor="end" fill="#000" font-weight="bold" transform="translate(357.6,1348.8) rotate(-45)">1501-1600</text>
<line x1="393.1" y1="1319" x2="393.1" y2="1328.5" stroke="#000" stroke-width="1.7" />
<text x="0" y="0" font-size="18.4" text-anchor="end" fill="#000" font-weight="bold" transform="translate(408.5,1348.8) rotate(-45)">1601-1700</text>
<line x1="443.9" y1="1319" x2="443.9" y2="1328.5" stroke="#000" stroke-width="1.7" />
<text x="0" y="0" font-size="18.4" text-anchor="end" fill="#000" font-weight="bold" transform="translate(459.3,1348.8) rotate(-45)">1701-1800</text>
<line x1="494.8" y1="1319" x2="494.8" y2="1328.5" stroke="#000" stroke-width="1.7" />
<text x="0" y="0" font-size="18.4" text-anchor="end" fill="#000" font-weight="bold" transform="translate(510.2,1348.8) rotate(-45)">1801-1900</text>
<line x1="545.7" y1="1319" x2="545.7" y2="1328.5" stroke="#000" stroke-width="1.7" />
<text x="0" y="0" font-size="18.4" text-anchor="end" fill="#000" font-weight="bold" transform="translate(561.1,1348.8) rotate(-45)">1901-2012</text>
<line x1="596.5" y1="1319" x2="596.5" y2="1328.5" stroke="#000" stroke-width="1.7" />
<text x="0" y="0" font-size="18.4" text-anchor="end" fill="#000" font-weight="bold" transform="translate(611.9,1348.8) rotate(-45)">1400-1480</text>
<line x1="647.4" y1="1319" x2="647.4" y2="1328.5" stroke="#000" stroke-width="1.7" />
<text x="0" y="0" font-size="18.4" text-anchor="end" fill="#000" font-weight="bold" transform="translate(662.8,1348.8) rotate(-45)">1770-1840</text>
<text x="0" y="0" font-size="26.2" text-anchor="middle" fill="#000" font-weight="normal" transform="translate(18.8,1073) rotate(-90)">Range</text>
<rect x="69" y="829.5" width="203.2" height="84.7" fill="#fff" stroke="#dcdcdc" stroke-width="1"/>
<rect x="71.6" y="833" width="36" height="17.3" fill="url(#gb)" stroke="#000" stroke-width="1.3"/>
<line x1="89.5" y1="853.6" x2="89.5" y2="870.2" stroke="#000" stroke-width="1.5" />
<line x1="83.5" y1="853.6" x2="95.5" y2="853.6" stroke="#000" stroke-width="1.5" />
<line x1="83.5" y1="870.2" x2="95.5" y2="870.2" stroke="#000" stroke-width="1.5" />
<line x1="78" y1="882.3" x2="101" y2="882.3" stroke="#000" stroke-width="1.5" />
<polygon points="90,898.7 94,902.7 90,906.7 86,902.7" fill="#000"/>
<text x="112.6" y="847.2" font-size="16.3" text-anchor="start" fill="#000" font-weight="bold" >25%~75%</text>
<text x="112.6" y="867.2" font-size="16.3" text-anchor="start" fill="#000" font-weight="bold" >Range within 1.5IQR</text>
<text x="112.6" y="887.4" font-size="16.3" text-anchor="start" fill="#000" font-weight="bold" >Median Line</text>
<text x="112.6" y="907.9" font-size="16.3" text-anchor="start" fill="#000" font-weight="bold" >Outliers</text>
<text x="12" y="834.5" font-size="27" text-anchor="start" fill="#000" font-weight="bold" >b)</text>
</g>
<g id="panelC">
<line x1="876.6" y1="853.2" x2="876.6" y2="1315.3" stroke="#9af59a" stroke-width="1.6" stroke-dasharray="1.1 1.4"/>
<line x1="994.6" y1="853.2" x2="994.6" y2="1315.3" stroke="#9af59a" stroke-width="1.6" stroke-dasharray="1.1 1.4"/>
<line x1="1112.6" y1="853.2" x2="1112.6" y2="1315.3" stroke="#9af59a" stroke-width="1.6" stroke-dasharray="1.1 1.4"/>
<line x1="1230.6" y1="853.2" x2="1230.6" y2="1315.3" stroke="#9af59a" stroke-width="1.6" stroke-dasharray="1.1 1.4"/>
<line x1="758.9" y1="1238.3" x2="1347.4" y2="1238.3" stroke="#8df28d" stroke-width="1.1" stroke-dasharray="1.1 1.4"/>
<line x1="758.9" y1="1084.2" x2="1347.4" y2="1084.2" stroke="#8df28d" stroke-width="1.1" stroke-dasharray="1.1 1.4"/>
<line x1="758.9" y1="930.2" x2="1347.4" y2="930.2" stroke="#8df28d" stroke-width="1.1" stroke-dasharray="1.1 1.4"/>
<line x1="817.6" y1="853.2" x2="817.6" y2="1315.3" stroke="#e5e5e5" stroke-width="1.6" />
<line x1="935.6" y1="853.2" x2="935.6" y2="1315.3" stroke="#e5e5e5" stroke-width="1.6" />
<line x1="1171.6" y1="853.2" x2="1171.6" y2="1315.3" stroke="#e5e5e5" stroke-width="1.6" />
<line x1="1289.6" y1="853.2" x2="1289.6" y2="1315.3" stroke="#e5e5e5" stroke-width="1.6" />
<line x1="758.9" y1="1161.2" x2="1347.4" y2="1161.2" stroke="#e5e5e5" stroke-width="1.6" />
<line x1="758.9" y1="1007.2" x2="1347.4" y2="1007.2" stroke="#e5e5e5" stroke-width="1.6" />
<line x1="1053.6" y1="853.2" x2="1053.6" y2="1315.3" stroke="#000" stroke-width="1.7" />
<path d="M829.4,1315.2 832.2,1314.6 835,1314 837.8,1313.2 840.5,1312.4 843.3,1311.5 846.1,1310.6 848.9,1309.5 851.7,1308.3 854.5,1307.1 857.3,1305.7 860,1304.2 862.8,1302.6 865.6,1300.9 868.4,1299 871.2,1297 874,1294.8 876.8,1292.4 879.5,1289.9 882.3,1287.2 885.1,1284.3 887.9,1281.2 890.7,1277.9 893.5,1274.4 896.3,1270.7 899,1266.8 901.8,1262.6 904.6,1258.2 907.4,1253.5 910.2,1248.6 913,1243.4 915.8,1238.1 918.5,1233.5 921.3,1228.7 924.1,1223.7 926.9,1218.5 929.7,1213 932.5,1207.4 935.3,1201.5 938.1,1195.3 940.8,1188.9 943.6,1182.3 946.4,1175.5 949.2,1168.4 952,1161.1 954.8,1152.8 957.6,1144 960.3,1135 963.1,1125.8 965.9,1116.4 968.7,1106.8 971.5,1097.1 974.3,1087.2 977.1,1077.2 979.8,1067.1 982.6,1057 985.4,1046.7 988.2,1036.5 991,1026.3 993.8,1016.5 996.6,1007.4 999.3,998.4 1002.1,989.3 1004.9,980.3 1007.7,971.4 1010.5,962.5 1013.3,953.8 1016.1,945.3 1018.8,937 1021.6,928.9 1024.4,921 1027.2,913.2 1030,905.7 1032.8,898.7 1035.6,892.3 1038.3,886.4 1041.1,881.2 1043.9,876.6 1046.7,872.6 1049.5,869.3 1052.3,866.8 1055.1,864.9 1057.8,863.8 1060.6,863.4 1063.4,863.7 1066.2,864.5 1069,865.8 1071.8,867.6 1074.6,870 1077.3,872.9 1080.1,876.2 1082.9,880.1 1085.7,884.4 1088.5,889.2 1091.3,894.5 1094.1,900.2 1096.8,906.3 1099.6,912.8 1102.4,919.7 1105.2,926.9 1108,934.4 1110.8,942.3 1113.6,950.4 1116.3,958.8 1119.1,967.5 1121.9,976.3 1124.7,985.3 1127.5,994.5 1130.3,1003.8 1133.1,1013.2 1135.9,1022.7 1138.6,1032.2 1141.4,1041.8 1144.2,1051.3 1147,1060.9 1149.8,1070.5 1152.6,1080.1 1155.4,1089.7 1158.1,1099.1 1160.9,1108.5 1163.7,1117.8 1166.5,1126.8 1169.3,1135.8 1172.1,1144.5 1174.9,1153.1 1177.6,1161.5 1180.4,1169.6 1183.2,1177.6 1186,1185.3 1188.8,1192.7 1191.6,1199.9 1194.4,1206.9 1197.1,1213.6 1199.9,1220.1 1202.7,1226.3 1205.5,1232.2 1208.3,1237.9 1211.1,1243.3 1213.9,1248.5 1216.6,1253.3 1219.4,1257.8 1222.2,1262.1 1225,1266.1 1227.8,1270 1230.6,1273.6 1233.4,1277 1236.1,1280.2 1238.9,1283.3 1241.7,1286.1 1244.5,1288.8 1247.3,1291.3 1250.1,1293.6 1252.9,1295.8 1255.6,1297.8 1258.4,1299.7 1261.2,1301.5 1264,1303.1 1266.8,1304.6 1269.6,1306 1272.4,1307.3 1275.1,1308.5 1277.9,1309.6 1280.7,1310.6 1283.5,1311.5 1286.3,1312.4 1289.1,1313.1 1291.9,1313.8 1294.6,1314.5 1297.4,1315.1 1300.2,1315.3" stroke="#b9b9b9" stroke-width="1.7" fill="none" stroke-linejoin="round" stroke-linecap="round"/>
<path d="M789.9,1315 792.5,1314.4 795.2,1313.7 797.8,1313 800.5,1312.2 803.1,1311.3 805.8,1310.3 808.4,1309.3 811.1,1308.2 813.7,1307 816.4,1305.7 819.1,1304.3 821.7,1302.7 824.4,1301.1 827,1299.4 829.7,1297.5 832.3,1295.5 835,1293.4 837.6,1291.1 840.3,1288.7 842.9,1286.2 845.6,1283.5 848.2,1280.6 850.9,1277.6 853.5,1274.3 856.2,1271 858.9,1267.4 861.5,1263.7 864.2,1259.7 866.8,1255.6 869.5,1251.3 872.1,1246.8 874.8,1242.1 877.4,1237.2 880.1,1232.1 882.7,1226.8 885.4,1221.4 888,1215.7 890.7,1209.9 893.3,1203.9 896,1197.7 898.7,1191.3 901.3,1184.8 904,1178.1 906.6,1171.2 909.3,1164.3 911.9,1157.2 914.6,1150.1 917.2,1142.8 919.9,1135.5 922.5,1128.1 925.2,1120.6 927.8,1113 930.5,1105.4 933.1,1097.8 935.8,1090.2 938.5,1082.6 941.1,1075 943.8,1067.5 946.4,1060 949.1,1052.7 951.7,1045.4 954.4,1038.3 957,1031.3 959.7,1024.4 962.3,1017.8 965,1011.4 967.6,1005.1 970.3,998.9 972.9,993.1 975.6,987.6 978.3,982.4 980.9,977.5 983.6,973 986.2,968.8 988.9,965 991.5,961.6 994.2,958.6 996.8,956 999.5,953.8 1002.1,951.9 1004.8,950.5 1007.4,949.5 1010.1,948.9 1012.7,948.7 1015.4,948.8 1018,949.4 1020.7,950.4 1023.4,951.7 1026,953.5 1028.7,955.6 1031.3,958.1 1034,961 1036.6,964.2 1039.3,967.8 1041.9,971.7 1044.6,976 1047.2,980.5 1049.9,985.4 1052.5,990.6 1055.2,996.4 1057.8,1003.2 1060.5,1010.4 1063.2,1017 1065.8,1023.9 1068.5,1030.9 1071.1,1038.2 1073.8,1045.6 1076.4,1053.2 1079.1,1060.9 1081.7,1068.8 1084.4,1076.8 1087,1084.8 1089.7,1092.9 1092.3,1100.8 1095,1108.8 1097.6,1116.7 1100.3,1124.6 1103,1132.5 1105.6,1140.2 1108.3,1147.9 1110.9,1155.5 1113.6,1163 1116.2,1170.4 1118.9,1177.6 1121.5,1184.4 1124.2,1190.9 1126.8,1197.3 1129.5,1203.6 1132.1,1209.6 1134.8,1215.4 1137.4,1221.1 1140.1,1226.5 1142.8,1231.8 1145.4,1236.9 1148.1,1241.7 1150.7,1246.4 1153.4,1250.9 1156,1255.1 1158.7,1259.2 1161.3,1263.1 1164,1266.8 1166.6,1270.3 1169.3,1273.7 1171.9,1276.9 1174.6,1279.9 1177.2,1282.7 1179.9,1285.4 1182.6,1287.9 1185.2,1290.3 1187.9,1292.6 1190.5,1294.7 1193.2,1296.7 1195.8,1298.5 1198.5,1300.3 1201.1,1301.9 1203.8,1303.4 1206.4,1304.8 1209.1,1306.1 1211.7,1307.4 1214.4,1308.5 1217,1309.5 1219.7,1310.5 1222.4,1311.4 1225,1312.3 1227.7,1313 1230.3,1313.7 1233,1314.4 1235.6,1315 1238.3,1315.3" stroke="#ffa94d" stroke-width="1.8" fill="none" stroke-linejoin="round" stroke-linecap="round"/>
<path d="M772.8,1302.4 775.8,1301.8 778.9,1301.1 781.9,1300.4 785,1299.6 788.1,1298.7 791.1,1297.8 794.2,1296.7 797.2,1295.6 800.3,1294.4 803.3,1293.1 806.4,1291.6 809.5,1290.1 812.5,1288.4 815.6,1286.6 818.6,1284.6 821.7,1282.5 824.7,1280.3 827.8,1277.8 830.9,1275.3 833.9,1272.5 837,1269.6 840,1266.5 843.1,1263.1 846.2,1259.6 849.2,1255.9 852.3,1252 855.3,1247.8 858.4,1243.5 861.4,1238.9 864.5,1234 867.6,1229 870.6,1223.7 873.7,1218.2 876.7,1212.5 879.8,1206.6 882.9,1200.4 885.9,1194 889,1187.4 892,1180.6 895.1,1173.6 898.1,1166.4 901.2,1159 904.3,1151.4 907.3,1143.7 910.4,1135.9 913.4,1127.9 916.5,1119.9 919.6,1111.7 922.6,1103.5 925.7,1095.2 928.7,1086.9 931.8,1078.6 934.8,1070.4 937.9,1062.1 941,1054 944,1045.9 947.1,1038 950.1,1030.2 953.2,1022.5 956.3,1015.1 959.3,1007.9 962.4,1001 965.4,994.3 968.5,988 971.5,981.9 974.6,976.2 977.7,970.9 980.7,966 983.8,961.5 986.8,957.4 989.9,953.8 993,950.6 996,948 999.1,945.8 1002.1,944.1 1005.2,942.9 1008.2,942.2 1011.3,942 1014.4,942.3 1017.4,943.1 1020.5,944.5 1023.5,946.3 1026.6,948.6 1029.7,951.3 1032.7,954.6 1035.8,958.3 1038.8,962.4 1041.9,967 1044.9,972 1048,977.4 1051.1,983.2 1054.1,989.3 1057.2,995.8 1060.2,1002.5 1063.3,1009.6 1066.3,1016.9 1069.4,1024.4 1072.5,1032.1 1075.5,1040.1 1078.6,1048.1 1081.6,1056.3 1084.7,1064.6 1087.8,1073 1090.8,1081.4 1093.9,1089.8 1096.9,1098.3 1100,1106.7 1103,1115 1106.1,1123.3 1109.2,1131.5 1112.2,1139.6 1115.3,1147.6 1118.3,1155.4 1121.4,1163 1124.5,1170.4 1127.5,1177.5 1130.6,1184.4 1133.6,1191.1 1136.7,1197.6 1139.7,1203.8 1142.8,1209.9 1145.9,1215.7 1148.9,1221.3 1152,1226.6 1155,1231.7 1158.1,1236.6 1161.2,1241.3 1164.2,1245.7 1167.3,1250 1170.3,1254 1173.4,1257.8 1176.4,1261.4 1179.5,1264.8 1182.6,1268 1185.6,1271 1188.7,1273.8 1191.7,1276.4 1194.8,1278.9 1197.9,1281.2 1200.9,1283.4 1204,1285.4 1207,1287.3 1210.1,1289 1213.1,1290.6 1216.2,1292.1 1219.3,1293.5 1222.3,1294.8 1225.4,1296 1228.4,1297 1231.5,1298.2 1234.6,1299.2 1237.6,1300.2 1240.7,1301.1 1243.7,1301.9 1246.8,1302.6 1249.8,1303.2 1252.9,1303.8 1256,1304.2 1259,1304.7 1262.1,1305.1 1265.1,1305.4 1268.2,1305.7 1271.3,1306 1274.3,1306.2 1277.4,1306.4 1280.4,1306.6 1283.5,1306.8 1286.5,1306.9 1289.6,1307" stroke="#ff0000" stroke-width="2.2" fill="none" stroke-linejoin="round" stroke-linecap="round"/>
<path d="M817.6,1315.3 820.6,1314.7 823.7,1314 826.7,1313.3 829.7,1312.5 832.8,1311.6 835.8,1310.6 838.8,1309.5 841.9,1308.4 844.9,1307.1 848,1305.7 851,1304.1 854,1302.5 857.1,1300.7 860.1,1298.7 863.1,1296.6 866.2,1294.4 869.2,1291.9 872.2,1289.3 875.3,1286.5 878.3,1283.4 881.3,1280.2 884.4,1276.7 887.4,1273 890.4,1269.1 893.5,1264.9 896.5,1260.5 899.6,1255.8 902.6,1250.8 905.6,1245.6 908.7,1240.1 911.7,1234.3 914.7,1228.2 917.8,1221.8 920.8,1215.2 923.8,1208.2 926.9,1200.9 929.9,1193.4 932.9,1185.6 936,1177.5 939,1169.1 942,1160.5 945.1,1151.6 948.1,1142.5 951.2,1133.2 954.2,1123.6 957.2,1113.9 960.3,1104 963.3,1093.9 966.3,1083.7 969.4,1073.4 972.4,1063 975.4,1052.6 978.5,1042.1 981.5,1031.6 984.5,1021.2 987.6,1010.8 990.6,1000.6 993.7,990.4 996.7,980.5 999.7,970.7 1002.8,961.1 1005.8,951.9 1008.8,942.9 1011.9,934.2 1014.9,926 1017.9,918.1 1021,910.6 1024,903.6 1027,897.1 1030.1,891.1 1033.1,885.7 1036.1,880.8 1039.2,876.4 1042.2,872.7 1045.3,869.6 1048.3,867.1 1051.3,865.2 1054.4,864 1057.4,863.5 1060.4,863.6 1063.5,864.3 1066.5,865.7 1069.5,867.7 1072.6,870.4 1075.6,873.7 1078.6,877.6 1081.7,882 1084.7,887.1 1087.7,892.7 1090.8,898.9 1093.8,905.5 1096.9,912.6 1099.9,920.2 1102.9,928.2 1106,936.6 1109,945.3 1112,954.4 1115.1,963.7 1118.1,973.3 1121.1,983.2 1124.2,993.2 1127.2,1003.3 1130.2,1013.6 1133.3,1024 1136.3,1034.5 1139.3,1044.9 1142.4,1055.4 1145.4,1065.8 1148.5,1076.2 1151.5,1086.5 1154.5,1096.6 1157.6,1106.7 1160.6,1116.5 1163.6,1126.2 1166.7,1135.7 1169.7,1145 1172.7,1154.1 1175.8,1162.9 1178.8,1171.4 1181.8,1179.7 1184.9,1187.7 1187.9,1195.5 1190.9,1202.9 1194,1210.1 1197,1217 1200.1,1223.6 1203.1,1229.9 1206.1,1235.9 1209.2,1241.6 1212.2,1247.1 1215.2,1252.2 1218.3,1257.1 1221.3,1261.7 1224.3,1266.1 1227.4,1270.2 1230.4,1274.1 1233.4,1277.7 1236.5,1281.1 1239.5,1284.3 1242.5,1287.3 1245.6,1290 1248.6,1292.6 1251.7,1295 1254.7,1297.2 1257.7,1299.3 1260.8,1301.2 1263.8,1303 1266.8,1304.6 1269.9,1306.1 1272.9,1307.4 1275.9,1308.7 1279,1309.8 1282,1310.9 1285,1311.8 1288.1,1312.7 1291.1,1313.5 1294.1,1314.2 1297.2,1314.9 1300.2,1315.3" stroke="#0000ff" stroke-width="2.2" fill="none" stroke-linejoin="round" stroke-linecap="round"/>
<line x1="902.6" y1="853.2" x2="902.6" y2="1315.3" stroke="#ff0000" stroke-width="1.5" />
<line x1="934.2" y1="853.2" x2="934.2" y2="1312.8" stroke="#ff0000" stroke-width="1.5" />
<line x1="947.8" y1="853.2" x2="947.8" y2="1315.3" stroke="#ff0000" stroke-width="1.5" />
<text x="0" y="0" font-size="22.3" text-anchor="end" fill="#ff0000" font-weight="bold" transform="translate(895.7,855.0) rotate(-90)">2003</text>
<text x="0" y="0" font-size="22.3" text-anchor="end" fill="#ff0000" font-weight="bold" transform="translate(926.7,855.0) rotate(-90)">2018</text>
<text x="0" y="0" font-size="22.3" text-anchor="end" fill="#ff0000" font-weight="bold" transform="translate(969.6,855.0) rotate(-90)">2015</text>
<rect x="758.9" y="853.2" width="588.5" height="462.1" fill="none" stroke="#000" stroke-width="1.9"/>
<line x1="749.9" y1="1315.3" x2="758.9" y2="1315.3" stroke="#000" stroke-width="1.7" />
<text x="743.5" y="1320.5" font-size="14.6" text-anchor="end" fill="#000" font-weight="bold" >0</text>
<line x1="754.9" y1="1238.3" x2="758.9" y2="1238.3" stroke="#000" stroke-width="1.5" />
<line x1="749.9" y1="1161.2" x2="758.9" y2="1161.2" stroke="#000" stroke-width="1.7" />
<text x="743.5" y="1166.5" font-size="14.6" text-anchor="end" fill="#000" font-weight="bold" >6</text>
<line x1="754.9" y1="1084.2" x2="758.9" y2="1084.2" stroke="#000" stroke-width="1.5" />
<line x1="749.9" y1="1007.2" x2="758.9" y2="1007.2" stroke="#000" stroke-width="1.7" />
<text x="743.5" y="1012.4" font-size="14.6" text-anchor="end" fill="#000" font-weight="bold" >12</text>
<line x1="754.9" y1="930.2" x2="758.9" y2="930.2" stroke="#000" stroke-width="1.5" />
<line x1="749.9" y1="853.1" x2="758.9" y2="853.1" stroke="#000" stroke-width="1.7" />
<text x="743.5" y="858.3" font-size="14.6" text-anchor="end" fill="#000" font-weight="bold" >18</text>
<line x1="758.6" y1="1315.3" x2="758.6" y2="1319.9" stroke="#000" stroke-width="1.5" />
<line x1="817.6" y1="1315.3" x2="817.6" y2="1324.3" stroke="#000" stroke-width="1.7" />
<text x="817.6" y="1343.5" font-size="14.6" text-anchor="middle" fill="#000" font-weight="bold" >-4</text>
<line x1="876.6" y1="1315.3" x2="876.6" y2="1319.9" stroke="#000" stroke-width="1.5" />
<line x1="935.6" y1="1315.3" x2="935.6" y2="1324.3" stroke="#000" stroke-width="1.7" />
<text x="935.6" y="1343.5" font-size="14.6" text-anchor="middle" fill="#000" font-weight="bold" >-2</text>
<line x1="994.6" y1="1315.3" x2="994.6" y2="1319.9" stroke="#000" stroke-width="1.5" />
<line x1="1053.6" y1="1315.3" x2="1053.6" y2="1324.3" stroke="#000" stroke-width="1.7" />
<text x="1053.6" y="1343.5" font-size="14.6" text-anchor="middle" fill="#000" font-weight="bold" >0</text>
<line x1="1112.6" y1="1315.3" x2="1112.6" y2="1319.9" stroke="#000" stroke-width="1.5" />
<line x1="1171.6" y1="1315.3" x2="1171.6" y2="1324.3" stroke="#000" stroke-width="1.7" />
<text x="1171.6" y="1343.5" font-size="14.6" text-anchor="middle" fill="#000" font-weight="bold" >2</text>
<line x1="1230.6" y1="1315.3" x2="1230.6" y2="1319.9" stroke="#000" stroke-width="1.5" />
<line x1="1289.6" y1="1315.3" x2="1289.6" y2="1324.3" stroke="#000" stroke-width="1.7" />
<text x="1289.6" y="1343.5" font-size="14.6" text-anchor="middle" fill="#000" font-weight="bold" >4</text>
<line x1="1348.6" y1="1315.3" x2="1348.6" y2="1319.9" stroke="#000" stroke-width="1.5" />
<text x="0" y="0" font-size="18.5" text-anchor="middle" fill="#000" font-weight="bold" transform="translate(729.3,1071) rotate(-90)">Probability Density Function</text>
<rect x="1214" y="855" width="132" height="82" fill="#fff"/>
<line x1="1217" y1="865" x2="1253.2" y2="865" stroke="#ff0000" stroke-width="2.3" />
<text x="1257.4" y="870.4" font-size="15" text-anchor="start" fill="#000" font-weight="bold" >1400 - 1480</text>
<line x1="1217" y1="885.5" x2="1253.2" y2="885.5" stroke="#ffa94d" stroke-width="2.3" />
<text x="1257.4" y="890.9" font-size="15" text-anchor="start" fill="#000" font-weight="bold" >1770 - 1830</text>
<line x1="1217" y1="906.1" x2="1253.2" y2="906.1" stroke="#b9b9b9" stroke-width="2.3" />
<text x="1257.4" y="911.5" font-size="15" text-anchor="start" fill="#000" font-weight="bold" >1901 - 2012</text>
<line x1="1217" y1="926.6" x2="1253.2" y2="926.6" stroke="#0000ff" stroke-width="2.3" />
<text x="1257.4" y="932" font-size="15" text-anchor="start" fill="#000" font-weight="bold" >1901 - 2018</text>
<text x="997.2" y="1286.8" font-size="20.5" text-anchor="middle" fill="#ff8000" font-weight="bold" >Dry</text>
<rect x="964" y="1303" width="71.2" height="3.2" fill="#ff8000"/>
<polygon points="943,1304.6 966,1298.4 966,1310.8" fill="#ff8000"/>
<text x="1111" y="1291" font-size="20.5" text-anchor="middle" fill="#0a7d0a" font-weight="bold" >Wet</text>
<rect x="1063.9" y="1303.6" width="78" height="3.2" fill="#0a7d0a"/>
<polygon points="1164.3,1305.2 1140.3,1299 1140.3,1311.4" fill="#0a7d0a"/>
<text x="703" y="841" font-size="27" text-anchor="start" fill="#000" font-weight="bold" >c)</text>
</g>
</svg>
</body></html>
